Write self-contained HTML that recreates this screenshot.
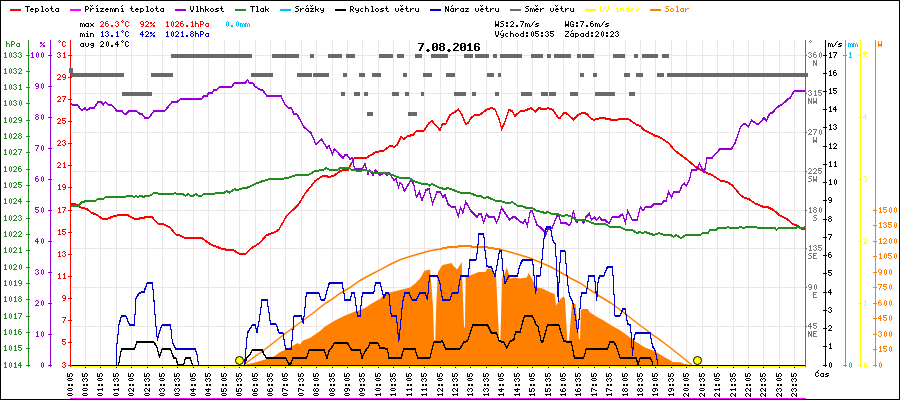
<!DOCTYPE html>
<html><head><meta charset="utf-8"><title>Graf 7.08.2016</title>
<style>
html,body{margin:0;padding:0;background:#fff;font-family:"Liberation Sans",sans-serif;}
body{width:900px;height:400px;overflow:hidden;}
svg{display:block;}
.ce,use,defs path{shape-rendering:crispEdges;}
.ln{fill:none;stroke-linejoin:miter;stroke-linecap:butt;shape-rendering:crispEdges;}
</style></head><body>
<svg width="900" height="400" viewBox="0 0 900 400">
<defs>
<path id="g25" d="M0 2h2v1h-2zM4 2h1v1h-1zM0 3h2v1h-2zM3 3h1v1h-1zM2 4h1v1h-1zM1 5h1v1h-1zM3 5h2v1h-2zM0 6h1v1h-1zM3 6h2v1h-2z"/>
<path id="g2e" d="M1 5h2v1h-2zM1 6h2v1h-2z"/>
<path id="g2f" d="M4 1h1v1h-1zM3 2h1v1h-1zM2 3h1v1h-1zM2 4h1v1h-1zM1 5h1v1h-1zM0 6h1v1h-1z"/>
<path id="g30" d="M2 1h1v1h-1zM1 2h1v1h-1zM3 2h1v1h-1zM1 3h1v1h-1zM3 3h1v1h-1zM1 4h1v1h-1zM3 4h1v1h-1zM1 5h1v1h-1zM3 5h1v1h-1zM2 6h1v1h-1z"/>
<path id="g31" d="M2 1h1v1h-1zM1 2h2v1h-2zM2 3h1v1h-1zM2 4h1v1h-1zM2 5h1v1h-1zM1 6h3v1h-3z"/>
<path id="g32" d="M1 1h2v1h-2zM0 2h1v1h-1zM3 2h1v1h-1zM3 3h1v1h-1zM2 4h1v1h-1zM1 5h1v1h-1zM0 6h4v1h-4z"/>
<path id="g33" d="M1 1h2v1h-2zM0 2h1v1h-1zM3 2h1v1h-1zM2 3h1v1h-1zM3 4h1v1h-1zM0 5h1v1h-1zM3 5h1v1h-1zM1 6h2v1h-2z"/>
<path id="g34" d="M2 1h1v1h-1zM1 2h2v1h-2zM0 3h1v1h-1zM2 3h1v1h-1zM0 4h4v1h-4zM2 5h1v1h-1zM2 6h1v1h-1z"/>
<path id="g35" d="M0 1h4v1h-4zM0 2h1v1h-1zM0 3h3v1h-3zM3 4h1v1h-1zM0 5h1v1h-1zM3 5h1v1h-1zM1 6h2v1h-2z"/>
<path id="g36" d="M1 1h2v1h-2zM0 2h1v1h-1zM0 3h3v1h-3zM0 4h1v1h-1zM3 4h1v1h-1zM0 5h1v1h-1zM3 5h1v1h-1zM1 6h2v1h-2z"/>
<path id="g37" d="M0 1h4v1h-4zM3 2h1v1h-1zM2 3h1v1h-1zM2 4h1v1h-1zM1 5h1v1h-1zM1 6h1v1h-1z"/>
<path id="g38" d="M1 1h2v1h-2zM0 2h1v1h-1zM3 2h1v1h-1zM1 3h2v1h-2zM0 4h1v1h-1zM3 4h1v1h-1zM0 5h1v1h-1zM3 5h1v1h-1zM1 6h2v1h-2z"/>
<path id="g39" d="M1 1h2v1h-2zM0 2h1v1h-1zM3 2h1v1h-1zM0 3h1v1h-1zM3 3h1v1h-1zM1 4h3v1h-3zM3 5h1v1h-1zM1 6h2v1h-2z"/>
<path id="g3a" d="M1 2h2v1h-2zM1 3h2v1h-2zM1 5h2v1h-2zM1 6h2v1h-2z"/>
<path id="g43" d="M1 1h2v1h-2zM0 2h1v1h-1zM3 2h1v1h-1zM0 3h1v1h-1zM0 4h1v1h-1zM0 5h1v1h-1zM3 5h1v1h-1zM1 6h2v1h-2z"/>
<path id="g45" d="M0 1h4v1h-4zM0 2h1v1h-1zM0 3h3v1h-3zM0 4h1v1h-1zM0 5h1v1h-1zM0 6h4v1h-4z"/>
<path id="g47" d="M1 1h2v1h-2zM0 2h1v1h-1zM3 2h1v1h-1zM0 3h1v1h-1zM0 4h1v1h-1zM2 4h2v1h-2zM0 5h1v1h-1zM3 5h1v1h-1zM1 6h3v1h-3z"/>
<path id="g4e" d="M0 1h1v1h-1zM3 1h1v1h-1zM0 2h2v1h-2zM3 2h1v1h-1zM0 3h2v1h-2zM3 3h1v1h-1zM0 4h1v1h-1zM2 4h2v1h-2zM0 5h1v1h-1zM2 5h2v1h-2zM0 6h1v1h-1zM3 6h1v1h-1z"/>
<path id="g50" d="M0 1h3v1h-3zM0 2h1v1h-1zM3 2h1v1h-1zM0 3h1v1h-1zM3 3h1v1h-1zM0 4h3v1h-3zM0 5h1v1h-1zM0 6h1v1h-1z"/>
<path id="g52" d="M0 1h3v1h-3zM0 2h1v1h-1zM3 2h1v1h-1zM0 3h1v1h-1zM3 3h1v1h-1zM0 4h3v1h-3zM0 5h1v1h-1zM2 5h1v1h-1zM0 6h1v1h-1zM3 6h1v1h-1z"/>
<path id="g53" d="M1 1h3v1h-3zM0 2h1v1h-1zM1 3h2v1h-2zM3 4h1v1h-1zM3 5h1v1h-1zM0 6h3v1h-3z"/>
<path id="g54" d="M0 1h5v1h-5zM2 2h1v1h-1zM2 3h1v1h-1zM2 4h1v1h-1zM2 5h1v1h-1zM2 6h1v1h-1z"/>
<path id="g55" d="M0 1h1v1h-1zM3 1h1v1h-1zM0 2h1v1h-1zM3 2h1v1h-1zM0 3h1v1h-1zM3 3h1v1h-1zM0 4h1v1h-1zM3 4h1v1h-1zM0 5h1v1h-1zM3 5h1v1h-1zM1 6h2v1h-2z"/>
<path id="g56" d="M0 1h1v1h-1zM3 1h1v1h-1zM0 2h1v1h-1zM3 2h1v1h-1zM0 3h1v1h-1zM3 3h1v1h-1zM0 4h1v1h-1zM3 4h1v1h-1zM1 5h2v1h-2zM1 6h2v1h-2z"/>
<path id="g57" d="M0 1h1v1h-1zM3 1h1v1h-1zM0 2h1v1h-1zM3 2h1v1h-1zM0 3h1v1h-1zM3 3h1v1h-1zM0 4h4v1h-4zM0 5h4v1h-4zM0 6h1v1h-1zM3 6h1v1h-1z"/>
<path id="g5a" d="M0 1h4v1h-4zM3 2h1v1h-1zM2 3h1v1h-1zM1 4h1v1h-1zM0 5h1v1h-1zM0 6h4v1h-4z"/>
<path id="g61" d="M1 3h3v1h-3zM0 4h1v1h-1zM3 4h1v1h-1zM0 5h1v1h-1zM3 5h1v1h-1zM1 6h3v1h-3z"/>
<path id="g63" d="M1 3h2v1h-2zM0 4h1v1h-1zM0 5h1v1h-1zM1 6h2v1h-2z"/>
<path id="g64" d="M3 1h1v1h-1zM3 2h1v1h-1zM1 3h3v1h-3zM0 4h1v1h-1zM3 4h1v1h-1zM0 5h1v1h-1zM3 5h1v1h-1zM1 6h3v1h-3z"/>
<path id="g65" d="M1 3h2v1h-2zM0 4h4v1h-4zM0 5h1v1h-1zM1 6h2v1h-2z"/>
<path id="g67" d="M1 3h3v1h-3zM0 4h1v1h-1zM3 4h1v1h-1zM1 5h3v1h-3zM3 6h1v1h-1zM1 7h2v1h-2z"/>
<path id="g68" d="M0 1h1v1h-1zM0 2h1v1h-1zM0 3h3v1h-3zM0 4h1v1h-1zM3 4h1v1h-1zM0 5h1v1h-1zM3 5h1v1h-1zM0 6h1v1h-1zM3 6h1v1h-1z"/>
<path id="g69" d="M2 1h1v1h-1zM1 3h2v1h-2zM2 4h1v1h-1zM2 5h1v1h-1zM1 6h3v1h-3z"/>
<path id="g6b" d="M0 1h1v1h-1zM0 2h1v1h-1zM0 3h1v1h-1zM3 3h1v1h-1zM0 4h3v1h-3zM0 5h1v1h-1zM2 5h1v1h-1zM0 6h1v1h-1zM3 6h1v1h-1z"/>
<path id="g6c" d="M1 1h2v1h-2zM2 2h1v1h-1zM2 3h1v1h-1zM2 4h1v1h-1zM2 5h1v1h-1zM1 6h3v1h-3z"/>
<path id="g6d" d="M0 3h2v1h-2zM3 3h1v1h-1zM0 4h1v1h-1zM2 4h1v1h-1zM4 4h1v1h-1zM0 5h1v1h-1zM2 5h1v1h-1zM4 5h1v1h-1zM0 6h1v1h-1zM2 6h1v1h-1zM4 6h1v1h-1z"/>
<path id="g6e" d="M0 3h3v1h-3zM0 4h1v1h-1zM3 4h1v1h-1zM0 5h1v1h-1zM3 5h1v1h-1zM0 6h1v1h-1zM3 6h1v1h-1z"/>
<path id="g6f" d="M1 3h2v1h-2zM0 4h1v1h-1zM3 4h1v1h-1zM0 5h1v1h-1zM3 5h1v1h-1zM1 6h2v1h-2z"/>
<path id="g70" d="M0 3h3v1h-3zM0 4h1v1h-1zM3 4h1v1h-1zM0 5h1v1h-1zM3 5h1v1h-1zM0 6h3v1h-3zM0 7h1v1h-1z"/>
<path id="g72" d="M0 3h1v1h-1zM2 3h2v1h-2zM0 4h2v1h-2zM0 5h1v1h-1zM0 6h1v1h-1z"/>
<path id="g73" d="M1 3h3v1h-3zM0 4h2v1h-2zM2 5h2v1h-2zM0 6h3v1h-3z"/>
<path id="g74" d="M1 1h1v1h-1zM1 2h1v1h-1zM0 3h3v1h-3zM1 4h1v1h-1zM1 5h1v1h-1zM2 6h2v1h-2z"/>
<path id="g75" d="M0 3h1v1h-1zM3 3h1v1h-1zM0 4h1v1h-1zM3 4h1v1h-1zM0 5h1v1h-1zM3 5h1v1h-1zM1 6h3v1h-3z"/>
<path id="g76" d="M0 3h1v1h-1zM3 3h1v1h-1zM0 4h1v1h-1zM3 4h1v1h-1zM0 5h1v1h-1zM3 5h1v1h-1zM1 6h2v1h-2z"/>
<path id="g78" d="M0 3h1v1h-1zM3 3h1v1h-1zM1 4h2v1h-2zM1 5h2v1h-2zM0 6h1v1h-1zM3 6h1v1h-1z"/>
<path id="g79" d="M0 3h1v1h-1zM3 3h1v1h-1zM0 4h1v1h-1zM3 4h1v1h-1zM1 5h3v1h-3zM3 6h1v1h-1zM1 7h2v1h-2z"/>
<path id="g7a" d="M0 3h4v1h-4zM2 4h1v1h-1zM1 5h1v1h-1zM0 6h4v1h-4z"/>
<path id="gb0" d="M2 0h1v1h-1zM1 1h1v1h-1zM3 1h1v1h-1zM2 2h1v1h-1z"/>
<path id="ge1" d="M2 0h1v1h-1zM1 1h1v1h-1zM1 3h3v1h-3zM0 4h1v1h-1zM3 4h1v1h-1zM0 5h1v1h-1zM3 5h1v1h-1zM1 6h3v1h-3z"/>
<path id="ged" d="M2 0h1v1h-1zM1 1h1v1h-1zM1 3h2v1h-2zM2 4h1v1h-1zM2 5h1v1h-1zM1 6h3v1h-3z"/>
<path id="gfd" d="M2 0h1v1h-1zM1 1h1v1h-1zM0 3h1v1h-1zM3 3h1v1h-1zM0 4h1v1h-1zM3 4h1v1h-1zM1 5h3v1h-3zM3 6h1v1h-1zM1 7h2v1h-2z"/>
<path id="g10d" d="M3 0h1v1h-1zM2 1h1v1h-1zM1 2h2v1h-2zM0 3h1v1h-1zM3 3h1v1h-1zM0 4h1v1h-1zM0 5h1v1h-1zM3 5h1v1h-1zM1 6h2v1h-2z"/>
<path id="g11b" d="M0 0h1v1h-1zM2 0h1v1h-1zM1 1h1v1h-1zM1 3h2v1h-2zM0 4h4v1h-4zM0 5h1v1h-1zM1 6h2v1h-2z"/>
<path id="g159" d="M0 0h1v1h-1zM2 0h1v1h-1zM1 1h1v1h-1zM0 3h1v1h-1zM2 3h2v1h-2zM0 4h2v1h-2zM0 5h1v1h-1zM0 6h1v1h-1z"/>
<path id="g17e" d="M0 0h1v1h-1zM2 0h1v1h-1zM1 1h1v1h-1zM0 3h4v1h-4zM2 4h1v1h-1zM1 5h1v1h-1zM0 6h4v1h-4z"/>
<path id="b2e" d="M2 6h2v1h-2zM1 7h4v1h-4zM2 8h2v1h-2z"/>
<path id="b30" d="M1 0h4v1h-4zM0 1h2v1h-2zM4 1h2v1h-2zM0 2h2v1h-2zM4 2h2v1h-2zM0 3h2v1h-2zM3 3h3v1h-3zM0 4h3v1h-3zM4 4h2v1h-2zM0 5h2v1h-2zM4 5h2v1h-2zM0 6h2v1h-2zM4 6h2v1h-2zM1 7h4v1h-4z"/>
<path id="b31" d="M2 0h2v1h-2zM1 1h3v1h-3zM0 2h4v1h-4zM2 3h2v1h-2zM2 4h2v1h-2zM2 5h2v1h-2zM2 6h2v1h-2zM0 7h6v1h-6z"/>
<path id="b32" d="M1 0h4v1h-4zM0 1h2v1h-2zM4 1h2v1h-2zM4 2h2v1h-2zM3 3h2v1h-2zM2 4h2v1h-2zM1 5h2v1h-2zM0 6h2v1h-2zM0 7h6v1h-6z"/>
<path id="b36" d="M1 0h4v1h-4zM0 1h2v1h-2zM4 1h2v1h-2zM0 2h2v1h-2zM0 3h5v1h-5zM0 4h2v1h-2zM4 4h2v1h-2zM0 5h2v1h-2zM4 5h2v1h-2zM0 6h2v1h-2zM4 6h2v1h-2zM1 7h4v1h-4z"/>
<path id="b37" d="M0 0h6v1h-6zM4 1h2v1h-2zM3 2h2v1h-2zM3 3h2v1h-2zM2 4h2v1h-2zM2 5h2v1h-2zM1 6h2v1h-2zM1 7h2v1h-2z"/>
<path id="b38" d="M1 0h4v1h-4zM0 1h2v1h-2zM4 1h2v1h-2zM0 2h2v1h-2zM4 2h2v1h-2zM1 3h4v1h-4zM0 4h2v1h-2zM4 4h2v1h-2zM0 5h2v1h-2zM4 5h2v1h-2zM0 6h2v1h-2zM4 6h2v1h-2zM1 7h4v1h-4z"/>
</defs>
<rect x="0" y="0" width="900" height="400" fill="#ffffff"/>
<g class="ce" stroke="#ece6e6" stroke-width="1">
<line x1="85.5" y1="40" x2="85.5" y2="365"/>
<line x1="100.5" y1="40" x2="100.5" y2="365"/>
<line x1="116.5" y1="40" x2="116.5" y2="365"/>
<line x1="131.5" y1="40" x2="131.5" y2="365"/>
<line x1="147.5" y1="40" x2="147.5" y2="365"/>
<line x1="162.5" y1="40" x2="162.5" y2="365"/>
<line x1="177.5" y1="40" x2="177.5" y2="365"/>
<line x1="193.5" y1="40" x2="193.5" y2="365"/>
<line x1="208.5" y1="40" x2="208.5" y2="365"/>
<line x1="224.5" y1="40" x2="224.5" y2="365"/>
<line x1="239.5" y1="40" x2="239.5" y2="365"/>
<line x1="255.5" y1="40" x2="255.5" y2="365"/>
<line x1="270.5" y1="40" x2="270.5" y2="365"/>
<line x1="285.5" y1="40" x2="285.5" y2="365"/>
<line x1="301.5" y1="40" x2="301.5" y2="365"/>
<line x1="316.5" y1="40" x2="316.5" y2="365"/>
<line x1="332.5" y1="40" x2="332.5" y2="365"/>
<line x1="347.5" y1="40" x2="347.5" y2="365"/>
<line x1="362.5" y1="40" x2="362.5" y2="365"/>
<line x1="378.5" y1="40" x2="378.5" y2="365"/>
<line x1="393.5" y1="40" x2="393.5" y2="365"/>
<line x1="409.5" y1="40" x2="409.5" y2="365"/>
<line x1="424.5" y1="40" x2="424.5" y2="365"/>
<line x1="440.5" y1="40" x2="440.5" y2="365"/>
<line x1="455.5" y1="40" x2="455.5" y2="365"/>
<line x1="470.5" y1="40" x2="470.5" y2="365"/>
<line x1="486.5" y1="40" x2="486.5" y2="365"/>
<line x1="501.5" y1="40" x2="501.5" y2="365"/>
<line x1="517.5" y1="40" x2="517.5" y2="365"/>
<line x1="532.5" y1="40" x2="532.5" y2="365"/>
<line x1="548.5" y1="40" x2="548.5" y2="365"/>
<line x1="563.5" y1="40" x2="563.5" y2="365"/>
<line x1="578.5" y1="40" x2="578.5" y2="365"/>
<line x1="594.5" y1="40" x2="594.5" y2="365"/>
<line x1="609.5" y1="40" x2="609.5" y2="365"/>
<line x1="625.5" y1="40" x2="625.5" y2="365"/>
<line x1="640.5" y1="40" x2="640.5" y2="365"/>
<line x1="655.5" y1="40" x2="655.5" y2="365"/>
<line x1="671.5" y1="40" x2="671.5" y2="365"/>
<line x1="686.5" y1="40" x2="686.5" y2="365"/>
<line x1="702.5" y1="40" x2="702.5" y2="365"/>
<line x1="717.5" y1="40" x2="717.5" y2="365"/>
<line x1="733.5" y1="40" x2="733.5" y2="365"/>
<line x1="748.5" y1="40" x2="748.5" y2="365"/>
<line x1="763.5" y1="40" x2="763.5" y2="365"/>
<line x1="779.5" y1="40" x2="779.5" y2="365"/>
<line x1="794.5" y1="40" x2="794.5" y2="365"/>
<line x1="70" y1="55.5" x2="805" y2="55.5"/>
<line x1="70" y1="93.5" x2="805" y2="93.5"/>
<line x1="70" y1="132.5" x2="805" y2="132.5"/>
<line x1="70" y1="171.5" x2="805" y2="171.5"/>
<line x1="70" y1="210.5" x2="805" y2="210.5"/>
<line x1="70" y1="248.5" x2="805" y2="248.5"/>
<line x1="70" y1="287.5" x2="805" y2="287.5"/>
<line x1="70" y1="326.5" x2="805" y2="326.5"/>
</g>
<polygon points="246.0,364.5 255.0,362.5 265.0,359.5 274.0,356.5 280.0,352.0 285.0,350.0 290.0,347.5 297.5,343.0 300.0,344.5 303.0,340.5 310.0,338.0 320.0,331.0 325.0,326.5 335.0,320.5 345.0,315.5 355.0,311.5 360.0,310.0 365.0,308.0 370.0,304.5 380.0,298.8 385.0,293.8 395.0,291.3 405.0,288.8 410.0,287.5 415.0,283.8 420.0,278.6 424.5,270.8 430.0,269.6 430.8,277.5 433.0,306.8 434.0,340.0 435.3,340.0 436.2,306.8 437.6,277.5 438.0,271.9 442.5,265.0 451.5,262.9 453.8,266.3 457.2,269.6 460.5,264.0 461.7,261.8 462.1,276.4 464.1,327.5 464.9,327.5 465.7,276.4 470.7,275.3 478.6,271.9 485.3,271.9 487.6,268.5 492.0,269.6 495.5,275.3 496.1,276.4 499.2,341.7 500.3,341.7 502.2,277.5 504.5,274.1 506.7,267.4 508.3,271.9 510.1,278.6 514.6,277.5 520.0,278.5 526.8,277.4 528.6,272.9 531.3,277.4 534.6,284.1 536.9,287.5 542.5,288.6 549.3,292.0 554.9,294.3 556.0,305.5 558.3,302.2 560.5,298.8 563.9,296.5 565.0,298.8 567.3,340.5 569.0,340.5 572.0,303.3 575.5,304.0 579.0,339.3 580.0,339.3 580.8,310.0 583.0,308.9 587.6,308.9 589.8,312.3 596.6,316.8 603.3,320.2 610.1,324.7 620.0,330.3 625.0,333.8 635.0,341.3 645.0,347.5 655.0,351.3 665.0,357.5 670.0,360.0 672.5,362.0 681.0,362.3 683.0,363.5 690.0,365.0 690,365.5 245,365.5" fill="#ff7f00"/>
<polyline points="245.0,364.5 246.0,363.0 250.0,360.0 260.0,353.0 270.0,345.5 280.0,337.5 290.0,330.0 297.5,324.5 305.0,319.0 312.5,313.5 320.0,307.5 327.5,302.0 330.0,300.5 340.0,293.5 350.0,287.5 360.0,280.5 370.0,275.0 380.0,269.8 390.0,264.5 400.0,259.7 410.0,256.5 420.0,253.5 430.0,250.7 440.0,248.9 449.0,247.0 464.0,246.2 468.0,245.9 472.0,246.6 487.0,247.2 490.0,248.0 500.0,249.3 510.0,252.0 520.0,255.0 530.0,258.0 540.0,262.3 550.0,266.5 560.0,272.0 570.0,278.0 580.0,283.0 590.0,290.0 600.0,296.5 610.0,302.5 617.0,307.5 625.0,313.5 635.0,321.5 645.0,329.0 655.0,336.5 660.0,339.8 670.0,347.5 692.0,365.0" fill="none" stroke="#ff7f00" stroke-width="1.5"/>
<g class="ln" stroke="#ff7f00" stroke-width="1"><polyline points="440.0,248.4 449.0,246.5 464.0,245.7 468.0,245.4 472.0,246.1 487.0,246.7 490.0,247.5 500.0,248.8"/><polyline points="440.0,249.4 449.0,247.5 464.0,246.7 468.0,246.4 472.0,247.1 487.0,247.7 490.0,248.5 500.0,249.8"/></g>
<g class="ce" fill="#696969">
<rect x="171.0" y="54" width="81.0" height="4"/>
<rect x="272.0" y="54" width="27.0" height="4"/>
<rect x="310.0" y="54" width="4.0" height="4"/>
<rect x="328.0" y="54" width="14.0" height="4"/>
<rect x="346.0" y="54" width="9.0" height="4"/>
<rect x="379.0" y="54" width="14.0" height="4"/>
<rect x="397.0" y="54" width="7.0" height="4"/>
<rect x="415.0" y="54" width="6.6" height="4"/>
<rect x="431.0" y="54" width="16.8" height="4"/>
<rect x="464.0" y="54" width="9.0" height="4"/>
<rect x="475.0" y="54" width="14.0" height="4"/>
<rect x="493.3" y="54" width="3.4" height="4"/>
<rect x="500.0" y="54" width="21.8" height="4"/>
<rect x="531.0" y="54" width="12.0" height="4"/>
<rect x="547.0" y="54" width="3.7" height="4"/>
<rect x="554.0" y="54" width="16.7" height="4"/>
<rect x="577.0" y="54" width="3.7" height="4"/>
<rect x="582.0" y="54" width="12.0" height="4"/>
<rect x="612.8" y="54" width="12.2" height="4"/>
<rect x="633.8" y="54" width="4.0" height="4"/>
<rect x="642.0" y="54" width="15.9" height="4"/>
<rect x="661.8" y="54" width="7.2" height="4"/>
<rect x="71.0" y="73" width="53.0" height="4"/>
<rect x="151.0" y="73" width="22.0" height="4"/>
<rect x="251.0" y="73" width="22.0" height="4"/>
<rect x="297.0" y="73" width="15.0" height="4"/>
<rect x="313.0" y="73" width="16.0" height="4"/>
<rect x="343.0" y="73" width="4.0" height="4"/>
<rect x="359.0" y="73" width="6.0" height="4"/>
<rect x="372.0" y="73" width="9.0" height="4"/>
<rect x="403.0" y="73" width="4.0" height="4"/>
<rect x="423.3" y="73" width="8.5" height="4"/>
<rect x="446.0" y="73" width="9.0" height="4"/>
<rect x="487.0" y="73" width="6.8" height="4"/>
<rect x="498.0" y="73" width="3.0" height="4"/>
<rect x="580.0" y="73" width="3.8" height="4"/>
<rect x="593.0" y="73" width="4.0" height="4"/>
<rect x="624.0" y="73" width="5.9" height="4"/>
<rect x="636.0" y="73" width="7.0" height="4"/>
<rect x="657.0" y="73" width="7.0" height="4"/>
<rect x="667.0" y="73" width="141.0" height="4"/>
<rect x="122.0" y="92" width="30.0" height="4"/>
<rect x="341.0" y="92" width="4.0" height="4"/>
<rect x="354.0" y="92" width="6.0" height="4"/>
<rect x="364.0" y="92" width="4.0" height="4"/>
<rect x="392.0" y="92" width="7.0" height="4"/>
<rect x="405.0" y="92" width="4.0" height="4"/>
<rect x="421.0" y="92" width="3.0" height="4"/>
<rect x="454.0" y="92" width="11.6" height="4"/>
<rect x="472.0" y="92" width="4.0" height="4"/>
<rect x="495.0" y="92" width="4.0" height="4"/>
<rect x="521.0" y="92" width="10.8" height="4"/>
<rect x="541.0" y="92" width="6.8" height="4"/>
<rect x="549.0" y="92" width="7.0" height="4"/>
<rect x="570.0" y="92" width="7.8" height="4"/>
<rect x="595.0" y="92" width="20.0" height="4"/>
<rect x="629.0" y="92" width="6.0" height="4"/>
<rect x="367.0" y="112" width="6.0" height="4"/>
<rect x="408.0" y="112" width="9.0" height="4"/>
</g>
<g class="ln" stroke="#ff0000" stroke-width="1"><polyline points="70.0,203.5 75.0,203.5 81.0,207.1 87.0,208.5 91.0,211.9 97.0,214.5 102.0,218.1 108.0,218.1 114.0,215.5 122.0,214.1 127.0,214.1 134.0,218.1 139.0,218.1 147.0,216.5 152.0,216.5 158.0,223.1 163.0,223.5 170.0,227.1 176.0,234.1 180.0,234.9 185.0,237.5 202.0,237.5 208.0,242.1 212.0,244.5 215.8,246.0 223.6,248.9 232.6,249.4 239.4,253.2 246.0,253.2 250.6,248.3 259.6,242.5 266.4,234.8 275.4,231.4 278.8,229.1 286.6,215.5 292.3,210.0 299.0,203.3 305.8,192.0 312.5,184.1 315.0,180.5 321.0,176.5 325.0,175.1 329.0,176.5 334.0,175.1 340.0,170.5 344.0,169.5 348.0,169.5 351.0,163.5 354.4,157.5 366.0,157.5 376.0,151.5 384.0,150.1 390.0,145.1 394.0,146.5 397.0,144.5 401.0,136.5 404.0,138.5 408.0,135.5 413.0,134.5 417.0,130.1 424.0,130.1 429.0,122.5 432.0,120.5 440.0,129.5 442.4,123.5 445.6,123.5 450.0,114.5 454.0,111.9 458.4,109.1 461.6,113.5 465.6,123.5 468.0,122.5 471.0,117.5 475.0,114.5 480.0,114.1 487.0,108.9 492.0,107.5 495.0,108.9 499.0,118.5 501.6,128.5 504.0,123.5 509.0,109.5 512.0,110.5 515.0,115.5 520.0,111.1 525.0,110.1 531.0,107.5 535.6,111.1 539.0,107.5 542.0,108.5 546.0,108.5 548.0,107.5 553.0,109.5 558.0,117.1 560.4,117.1 563.6,112.5 567.0,113.1 573.6,119.1 578.0,114.5 583.0,112.1 587.0,113.5 591.0,118.1 594.0,119.5 598.0,118.1 603.0,117.5 611.0,119.1 616.7,119.5 620.0,118.3 628.0,118.3 636.0,123.9 640.4,125.5 643.7,129.5 655.0,135.2 659.5,136.5 668.5,142.5 675.0,150.2 686.5,158.8 696.6,167.1 704.5,171.5 712.0,174.5 721.0,180.5 727.0,181.3 732.3,184.8 740.5,194.5 744.3,197.2 749.5,199.0 754.8,202.8 763.0,206.2 767.5,206.5 773.5,209.5 779.5,214.8 787.0,218.5 793.0,223.8 797.5,225.3 802.0,228.3 805.0,228.3"/><polyline points="70.0,204.5 75.0,204.5 81.0,208.1 87.0,209.5 91.0,212.9 97.0,215.5 102.0,219.1 108.0,219.1 114.0,216.5 122.0,215.1 127.0,215.1 134.0,219.1 139.0,219.1 147.0,217.5 152.0,217.5 158.0,224.1 163.0,224.5 170.0,228.1 176.0,235.1 180.0,235.9 185.0,238.5 202.0,238.5 208.0,243.1 212.0,245.5 215.8,247.0 223.6,249.9 232.6,250.4 239.4,254.2 246.0,254.2 250.6,249.3 259.6,243.5 266.4,235.8 275.4,232.4 278.8,230.1 286.6,216.5 292.3,211.0 299.0,204.3 305.8,193.0 312.5,185.1 315.0,181.5 321.0,177.5 325.0,176.1 329.0,177.5 334.0,176.1 340.0,171.5 344.0,170.5 348.0,170.5 351.0,164.5 354.4,158.5 366.0,158.5 376.0,152.5 384.0,151.1 390.0,146.1 394.0,147.5 397.0,145.5 401.0,137.5 404.0,139.5 408.0,136.5 413.0,135.5 417.0,131.1 424.0,131.1 429.0,123.5 432.0,121.5 440.0,130.5 442.4,124.5 445.6,124.5 450.0,115.5 454.0,112.9 458.4,110.1 461.6,114.5 465.6,124.5 468.0,123.5 471.0,118.5 475.0,115.5 480.0,115.1 487.0,109.9 492.0,108.5 495.0,109.9 499.0,119.5 501.6,129.5 504.0,124.5 509.0,110.5 512.0,111.5 515.0,116.5 520.0,112.1 525.0,111.1 531.0,108.5 535.6,112.1 539.0,108.5 542.0,109.5 546.0,109.5 548.0,108.5 553.0,110.5 558.0,118.1 560.4,118.1 563.6,113.5 567.0,114.1 573.6,120.1 578.0,115.5 583.0,113.1 587.0,114.5 591.0,119.1 594.0,120.5 598.0,119.1 603.0,118.5 611.0,120.1 616.7,120.5 620.0,119.3 628.0,119.3 636.0,124.9 640.4,126.5 643.7,130.5 655.0,136.2 659.5,137.5 668.5,143.5 675.0,151.2 686.5,159.8 696.6,168.1 704.5,172.5 712.0,175.5 721.0,181.5 727.0,182.3 732.3,185.8 740.5,195.5 744.3,198.2 749.5,200.0 754.8,203.8 763.0,207.2 767.5,207.5 773.5,210.5 779.5,215.8 787.0,219.5 793.0,224.8 797.5,226.3 802.0,229.3 805.0,229.3"/></g>
<g class="ln" stroke="#9400d3" stroke-width="1"><polyline points="70.0,101.5 72.0,104.1 77.0,104.1 82.0,110.1 85.0,107.5 87.0,110.1 90.0,107.5 94.0,107.5 98.0,101.5 101.0,101.5 103.4,104.1 105.4,101.5 108.0,104.1 111.4,104.1 116.6,110.1 121.6,110.1 124.0,113.1 126.6,113.1 129.4,110.1 136.0,110.1 140.0,113.5 142.0,113.5 144.6,117.1 149.0,117.1 154.4,110.1 165.0,110.1 172.0,101.5 177.0,101.5 180.6,98.5 201.6,98.5 203.6,95.5 207.0,95.5 208.6,92.5 212.0,92.5 214.0,89.1 217.0,89.1 219.4,86.5 231.4,86.5 234.4,82.5 245.0,82.5 247.6,79.5 249.0,82.1 252.4,82.5 255.0,85.9 260.0,89.1 262.4,89.5 267.0,95.5 281.0,95.5 285.0,103.9 288.0,107.1 291.6,107.5 293.6,113.1 296.6,113.5 298.0,115.5 304.0,126.5 311.0,132.5 316.0,143.9 321.4,138.5 327.0,147.5 329.0,145.1 332.4,153.5 334.4,148.5 343.0,157.5 345.0,154.5 347.0,154.5 350.0,158.5 352.0,157.1 354.4,167.5 357.0,168.9 362.0,168.9 365.0,163.1 368.0,173.5 369.4,169.5 373.0,174.5 375.6,169.5 380.0,174.5 384.0,172.5 387.0,174.5 389.0,172.5 394.0,179.5 396.0,178.5 398.6,186.5 400.0,182.5 402.0,183.9 404.4,190.5 411.0,179.5 413.6,183.5 416.4,196.5 419.4,191.5 422.0,199.9 426.0,189.5 429.0,188.5 432.6,203.1 437.0,191.5 440.0,191.1 443.0,196.5 445.0,194.5 448.0,203.5 451.0,206.1 455.0,206.1 458.4,215.5 460.6,207.1 463.0,212.5 465.6,201.1 471.0,210.5 477.0,216.5 479.0,213.1 481.0,213.1 483.6,221.9 486.4,213.5 489.0,216.5 494.0,216.5 496.6,221.9 499.0,216.5 501.4,207.1 505.0,212.5 509.6,219.5 513.0,216.5 515.0,216.5 520.0,221.1 523.0,222.5 525.0,219.5 527.4,225.1 530.4,210.5 532.4,210.9 537.0,224.5 540.0,226.5 544.0,230.5 545.6,234.5 548.0,228.5 552.0,227.5 557.0,215.5 559.0,215.5 561.0,222.5 566.0,222.5 569.0,225.1 571.0,222.5 573.4,210.5 576.0,221.1 577.6,221.9 578.0,219.5 582.0,219.5 583.6,222.5 586.0,216.5 589.4,213.1 591.4,219.5 594.4,216.5 596.4,219.5 599.6,216.5 601.6,219.5 605.0,219.5 609.0,223.1 612.4,216.5 619.0,216.5 622.4,213.5 625.4,221.9 627.6,210.5 632.4,219.5 637.0,219.5 640.4,206.5 643.0,210.1 645.6,206.5 651.0,206.5 654.0,203.5 661.6,203.5 663.6,200.5 666.0,200.5 668.6,191.5 671.4,197.1 673.6,191.5 679.6,191.1 682.0,185.1 684.4,183.1 686.4,185.5 689.6,179.1 691.4,170.5 691.6,169.5 696.6,169.5 699.5,163.3 702.0,168.2 704.5,171.5 707.0,157.0 712.4,157.0 720.0,148.5 731.5,148.5 735.0,142.5 740.5,126.5 744.0,123.2 746.0,123.9 748.4,126.2 751.7,119.9 757.4,123.7 759.6,122.5 764.0,117.5 766.4,119.9 769.7,113.1 772.0,112.5 777.6,106.5 782.0,104.1 787.7,98.9 790.0,97.5 794.5,90.2 805.0,90.2"/><polyline points="70.0,102.5 72.0,105.1 77.0,105.1 82.0,111.1 85.0,108.5 87.0,111.1 90.0,108.5 94.0,108.5 98.0,102.5 101.0,102.5 103.4,105.1 105.4,102.5 108.0,105.1 111.4,105.1 116.6,111.1 121.6,111.1 124.0,114.1 126.6,114.1 129.4,111.1 136.0,111.1 140.0,114.5 142.0,114.5 144.6,118.1 149.0,118.1 154.4,111.1 165.0,111.1 172.0,102.5 177.0,102.5 180.6,99.5 201.6,99.5 203.6,96.5 207.0,96.5 208.6,93.5 212.0,93.5 214.0,90.1 217.0,90.1 219.4,87.5 231.4,87.5 234.4,83.5 245.0,83.5 247.6,80.5 249.0,83.1 252.4,83.5 255.0,86.9 260.0,90.1 262.4,90.5 267.0,96.5 281.0,96.5 285.0,104.9 288.0,108.1 291.6,108.5 293.6,114.1 296.6,114.5 298.0,116.5 304.0,127.5 311.0,133.5 316.0,144.9 321.4,139.5 327.0,148.5 329.0,146.1 332.4,154.5 334.4,149.5 343.0,158.5 345.0,155.5 347.0,155.5 350.0,159.5 352.0,158.1 354.4,168.5 357.0,169.9 362.0,169.9 365.0,164.1 368.0,174.5 369.4,170.5 373.0,175.5 375.6,170.5 380.0,175.5 384.0,173.5 387.0,175.5 389.0,173.5 394.0,180.5 396.0,179.5 398.6,187.5 400.0,183.5 402.0,184.9 404.4,191.5 411.0,180.5 413.6,184.5 416.4,197.5 419.4,192.5 422.0,200.9 426.0,190.5 429.0,189.5 432.6,204.1 437.0,192.5 440.0,192.1 443.0,197.5 445.0,195.5 448.0,204.5 451.0,207.1 455.0,207.1 458.4,216.5 460.6,208.1 463.0,213.5 465.6,202.1 471.0,211.5 477.0,217.5 479.0,214.1 481.0,214.1 483.6,222.9 486.4,214.5 489.0,217.5 494.0,217.5 496.6,222.9 499.0,217.5 501.4,208.1 505.0,213.5 509.6,220.5 513.0,217.5 515.0,217.5 520.0,222.1 523.0,223.5 525.0,220.5 527.4,226.1 530.4,211.5 532.4,211.9 537.0,225.5 540.0,227.5 544.0,231.5 545.6,235.5 548.0,229.5 552.0,228.5 557.0,216.5 559.0,216.5 561.0,223.5 566.0,223.5 569.0,226.1 571.0,223.5 573.4,211.5 576.0,222.1 577.6,222.9 578.0,220.5 582.0,220.5 583.6,223.5 586.0,217.5 589.4,214.1 591.4,220.5 594.4,217.5 596.4,220.5 599.6,217.5 601.6,220.5 605.0,220.5 609.0,224.1 612.4,217.5 619.0,217.5 622.4,214.5 625.4,222.9 627.6,211.5 632.4,220.5 637.0,220.5 640.4,207.5 643.0,211.1 645.6,207.5 651.0,207.5 654.0,204.5 661.6,204.5 663.6,201.5 666.0,201.5 668.6,192.5 671.4,198.1 673.6,192.5 679.6,192.1 682.0,186.1 684.4,184.1 686.4,186.5 689.6,180.1 691.4,171.5 691.6,170.5 696.6,170.5 699.5,164.3 702.0,169.2 704.5,172.5 707.0,158.0 712.4,158.0 720.0,149.5 731.5,149.5 735.0,143.5 740.5,127.5 744.0,124.2 746.0,124.9 748.4,127.2 751.7,120.9 757.4,124.7 759.6,123.5 764.0,118.5 766.4,120.9 769.7,114.1 772.0,113.5 777.6,107.5 782.0,105.1 787.7,99.9 790.0,98.5 794.5,91.2 805.0,91.2"/></g>
<g class="ln" stroke="#228b22" stroke-width="1"><polyline points="70.0,205.5 78.0,205.5 82.0,201.5 87.0,200.5 95.0,200.5 98.0,198.5 103.0,198.5 106.0,196.5 125.0,196.5 127.0,195.5 132.0,195.5 134.0,196.5 136.0,195.1 138.0,196.5 140.6,195.1 143.4,196.5 146.6,195.1 149.4,195.5 154.0,192.5 157.0,192.5 159.0,193.5 173.0,193.5 175.0,192.1 177.0,193.5 183.0,193.5 185.6,195.5 188.0,193.5 191.0,195.5 193.0,195.5 195.6,193.5 199.0,195.5 201.0,195.5 204.0,193.5 214.0,193.5 216.0,192.5 224.0,192.5 226.6,190.5 229.4,192.1 234.6,188.5 237.0,190.1 241.0,188.1 247.3,187.1 255.0,183.5 262.0,180.8 269.8,178.5 280.0,178.5 288.0,177.5 296.0,174.5 309.0,174.1 315.0,170.5 323.0,169.5 326.4,167.5 329.0,169.1 338.0,169.1 340.0,167.5 349.0,167.5 352.0,169.5 359.0,170.5 366.0,169.5 374.0,172.5 386.0,172.5 394.0,175.1 400.0,177.5 409.0,177.5 414.0,180.5 422.0,183.5 427.0,183.5 429.6,185.1 432.0,183.5 440.0,187.5 445.0,188.5 448.0,187.5 460.0,192.1 470.0,192.5 477.0,195.5 481.0,195.5 484.0,198.1 487.4,196.5 495.0,200.1 500.0,200.5 504.0,201.5 508.0,203.1 512.0,201.5 518.0,205.5 523.0,205.9 528.0,208.1 531.0,206.9 537.0,210.5 540.0,210.9 545.0,212.5 548.0,211.5 552.0,213.5 558.0,213.5 563.0,215.9 566.0,214.5 570.0,215.5 573.0,217.5 577.0,219.5 585.0,219.5 594.0,223.1 605.0,223.1 610.0,226.5 620.0,226.5 626.0,229.5 632.0,229.5 637.0,232.5 640.0,231.5 642.4,232.5 645.0,231.5 654.0,234.5 659.0,232.5 664.0,234.5 671.0,234.5 673.6,236.5 676.0,234.5 681.0,237.5 686.0,234.5 700.0,234.5 703.0,232.5 708.0,232.5 710.0,229.5 716.0,229.5 718.0,227.5 726.0,227.5 728.0,226.5 730.0,227.5 738.0,227.5 740.4,226.5 743.0,227.5 748.0,226.3 756.3,226.3 757.8,227.5 775.0,227.5 776.5,229.3 778.8,227.5 796.0,227.5 797.5,226.3 799.8,227.5 803.5,227.5 805.0,226.3"/><polyline points="70.0,206.5 78.0,206.5 82.0,202.5 87.0,201.5 95.0,201.5 98.0,199.5 103.0,199.5 106.0,197.5 125.0,197.5 127.0,196.5 132.0,196.5 134.0,197.5 136.0,196.1 138.0,197.5 140.6,196.1 143.4,197.5 146.6,196.1 149.4,196.5 154.0,193.5 157.0,193.5 159.0,194.5 173.0,194.5 175.0,193.1 177.0,194.5 183.0,194.5 185.6,196.5 188.0,194.5 191.0,196.5 193.0,196.5 195.6,194.5 199.0,196.5 201.0,196.5 204.0,194.5 214.0,194.5 216.0,193.5 224.0,193.5 226.6,191.5 229.4,193.1 234.6,189.5 237.0,191.1 241.0,189.1 247.3,188.1 255.0,184.5 262.0,181.8 269.8,179.5 280.0,179.5 288.0,178.5 296.0,175.5 309.0,175.1 315.0,171.5 323.0,170.5 326.4,168.5 329.0,170.1 338.0,170.1 340.0,168.5 349.0,168.5 352.0,170.5 359.0,171.5 366.0,170.5 374.0,173.5 386.0,173.5 394.0,176.1 400.0,178.5 409.0,178.5 414.0,181.5 422.0,184.5 427.0,184.5 429.6,186.1 432.0,184.5 440.0,188.5 445.0,189.5 448.0,188.5 460.0,193.1 470.0,193.5 477.0,196.5 481.0,196.5 484.0,199.1 487.4,197.5 495.0,201.1 500.0,201.5 504.0,202.5 508.0,204.1 512.0,202.5 518.0,206.5 523.0,206.9 528.0,209.1 531.0,207.9 537.0,211.5 540.0,211.9 545.0,213.5 548.0,212.5 552.0,214.5 558.0,214.5 563.0,216.9 566.0,215.5 570.0,216.5 573.0,218.5 577.0,220.5 585.0,220.5 594.0,224.1 605.0,224.1 610.0,227.5 620.0,227.5 626.0,230.5 632.0,230.5 637.0,233.5 640.0,232.5 642.4,233.5 645.0,232.5 654.0,235.5 659.0,233.5 664.0,235.5 671.0,235.5 673.6,237.5 676.0,235.5 681.0,238.5 686.0,235.5 700.0,235.5 703.0,233.5 708.0,233.5 710.0,230.5 716.0,230.5 718.0,228.5 726.0,228.5 728.0,227.5 730.0,228.5 738.0,228.5 740.4,227.5 743.0,228.5 748.0,227.3 756.3,227.3 757.8,228.5 775.0,228.5 776.5,230.3 778.8,228.5 796.0,228.5 797.5,227.3 799.8,228.5 803.5,228.5 805.0,227.3"/></g>
<g class="ln" stroke="#0000cd" stroke-width="1"><polyline points="116.1,364.5 117.0,343.3 119.0,324.3 121.4,315.3 125.6,315.3 129.7,324.3 134.4,324.3 136.0,298.2 139.2,292.3 144.0,291.5 147.0,282.8 152.2,282.8 153.4,292.3 155.8,324.3 157.4,339.8 159.3,331.5 162.2,324.3 170.5,324.3 172.4,342.1 175.5,348.1 195.0,348.1 196.8,352.8 198.5,364.5"/><polyline points="116.1,365.5 117.0,344.3 119.0,325.3 121.4,316.3 125.6,316.3 129.7,325.3 134.4,325.3 136.0,299.2 139.2,293.3 144.0,292.5 147.0,283.8 152.2,283.8 153.4,293.3 155.8,325.3 157.4,340.8 159.3,332.5 162.2,325.3 170.5,325.3 172.4,343.1 175.5,349.1 195.0,349.1 196.8,353.8 198.5,365.5"/></g>
<g class="ln" stroke="#0000cd" stroke-width="1"><polyline points="244.5,364.5 245.5,354.5 247.0,337.0 248.0,331.5 252.5,324.5 255.0,324.5 257.0,332.0 259.5,318.3 262.0,299.5 267.0,299.5 268.8,310.8 270.5,323.3 276.3,324.0 278.8,332.0 283.0,332.5 285.5,348.3 291.3,348.3 293.0,329.5 294.0,315.8 301.3,315.8 303.3,323.3 305.0,307.0 306.3,292.5 318.8,292.5 321.3,299.5 324.5,299.5 327.5,288.3 329.5,282.0 342.0,282.0 343.8,292.0 345.0,299.5 350.0,299.5 352.0,292.5 354.5,292.5 356.3,307.0 357.5,315.8 360.0,315.8 361.3,302.0 362.5,292.5 373.8,292.5 375.5,282.5 380.0,282.5 382.5,292.0 383.8,297.0 386.3,292.0 388.8,292.0 390.0,304.5 391.3,315.0 396.3,315.0 398.8,340.8 401.3,315.8 402.5,302.0 405.0,292.0 408.8,292.0 412.0,299.0 416.3,299.0 420.0,292.0 425.0,292.0 427.5,299.0 429.5,275.8 437.5,275.8 440.0,283.3 442.5,299.0 450.0,299.0 452.5,292.0 458.0,292.0 460.5,275.8 468.0,275.8 470.0,259.5 476.3,259.0 478.0,244.5 478.8,233.8 483.8,233.8 485.0,249.5 487.0,265.8 491.3,266.5 495.0,275.8 497.5,262.0 499.5,250.0 501.3,250.0 503.0,269.5 505.0,282.5 508.8,275.8 517.5,275.8 519.5,265.8 522.5,259.5 532.5,259.5 533.8,272.0 535.0,287.0 535.8,292.5 537.0,275.3 540.0,275.3 542.0,259.5 543.8,239.5 545.5,229.5 547.0,226.3 550.5,226.3 552.5,239.5 555.0,243.3 556.3,259.5 557.5,287.0 558.3,300.8 559.5,269.5 560.8,250.8 565.0,250.8 566.3,265.8 567.5,282.0 569.5,295.0 572.5,300.8 574.5,310.8 576.0,319.5 577.5,332.0 579.0,319.5 581.3,292.5 586.3,292.5 588.8,275.3 594.5,275.3 596.3,294.5 596.8,299.5 598.0,282.0 599.5,275.3 603.8,275.3 607.5,266.3 612.5,266.3 613.8,289.5 615.0,315.0 620.0,315.0 623.0,308.3 625.0,308.3 627.5,323.3 630.5,324.5 632.5,354.5 633.8,339.5 635.5,332.0 650.0,332.0 652.5,345.8 655.5,350.8 658.0,364.5"/><polyline points="244.5,365.5 245.5,355.5 247.0,338.0 248.0,332.5 252.5,325.5 255.0,325.5 257.0,333.0 259.5,319.3 262.0,300.5 267.0,300.5 268.8,311.8 270.5,324.3 276.3,325.0 278.8,333.0 283.0,333.5 285.5,349.3 291.3,349.3 293.0,330.5 294.0,316.8 301.3,316.8 303.3,324.3 305.0,308.0 306.3,293.5 318.8,293.5 321.3,300.5 324.5,300.5 327.5,289.3 329.5,283.0 342.0,283.0 343.8,293.0 345.0,300.5 350.0,300.5 352.0,293.5 354.5,293.5 356.3,308.0 357.5,316.8 360.0,316.8 361.3,303.0 362.5,293.5 373.8,293.5 375.5,283.5 380.0,283.5 382.5,293.0 383.8,298.0 386.3,293.0 388.8,293.0 390.0,305.5 391.3,316.0 396.3,316.0 398.8,341.8 401.3,316.8 402.5,303.0 405.0,293.0 408.8,293.0 412.0,300.0 416.3,300.0 420.0,293.0 425.0,293.0 427.5,300.0 429.5,276.8 437.5,276.8 440.0,284.3 442.5,300.0 450.0,300.0 452.5,293.0 458.0,293.0 460.5,276.8 468.0,276.8 470.0,260.5 476.3,260.0 478.0,245.5 478.8,234.8 483.8,234.8 485.0,250.5 487.0,266.8 491.3,267.5 495.0,276.8 497.5,263.0 499.5,251.0 501.3,251.0 503.0,270.5 505.0,283.5 508.8,276.8 517.5,276.8 519.5,266.8 522.5,260.5 532.5,260.5 533.8,273.0 535.0,288.0 535.8,293.5 537.0,276.3 540.0,276.3 542.0,260.5 543.8,240.5 545.5,230.5 547.0,227.3 550.5,227.3 552.5,240.5 555.0,244.3 556.3,260.5 557.5,288.0 558.3,301.8 559.5,270.5 560.8,251.8 565.0,251.8 566.3,266.8 567.5,283.0 569.5,296.0 572.5,301.8 574.5,311.8 576.0,320.5 577.5,333.0 579.0,320.5 581.3,293.5 586.3,293.5 588.8,276.3 594.5,276.3 596.3,295.5 596.8,300.5 598.0,283.0 599.5,276.3 603.8,276.3 607.5,267.3 612.5,267.3 613.8,290.5 615.0,316.0 620.0,316.0 623.0,309.3 625.0,309.3 627.5,324.3 630.5,325.5 632.5,355.5 633.8,340.5 635.5,333.0 650.0,333.0 652.5,346.8 655.5,351.8 658.0,365.5"/></g>
<g class="ln" stroke="#000000" stroke-width="1"><polyline points="118.5,364.5 121.4,348.5 134.4,348.5 136.8,341.7 154.0,341.7 157.0,346.9 159.3,356.4 162.2,348.5 170.5,348.5 173.6,357.1 176.0,358.0 177.9,364.5 183.5,364.5 185.4,357.5 190.2,357.5 192.6,364.5"/><polyline points="118.5,365.5 121.4,349.5 134.4,349.5 136.8,342.7 154.0,342.7 157.0,347.9 159.3,357.4 162.2,349.5 170.5,349.5 173.6,358.1 176.0,359.0 177.9,365.5 183.5,365.5 185.4,358.5 190.2,358.5 192.6,365.5"/></g>
<g class="ln" stroke="#000000" stroke-width="1"><polyline points="244.5,364.5 247.0,357.0 250.5,353.3 252.5,349.0 262.0,349.0 263.8,353.3 266.3,357.5 285.5,357.5 287.5,360.8 289.5,364.5 291.3,362.0 293.0,357.5 306.3,357.5 308.0,353.3 309.5,349.0 323.8,349.0 325.5,353.3 327.0,357.5 328.8,350.8 332.5,345.8 334.5,342.0 347.0,342.0 349.5,345.8 351.3,349.0 360.0,349.0 362.0,357.5 363.8,353.3 366.3,349.0 368.8,345.8 370.0,342.0 377.5,342.0 380.0,347.5 387.5,348.3 388.8,357.0 401.3,357.0 403.8,348.3 415.0,348.3 417.5,357.0 430.0,357.0 433.8,342.0 442.5,340.8 445.5,348.3 460.0,348.3 463.8,341.5 467.5,340.8 473.0,324.5 487.5,324.5 491.3,332.0 496.3,332.0 499.3,340.8 503.8,341.5 506.8,347.5 510.0,340.8 513.8,339.5 515.5,332.0 520.0,331.5 524.3,315.8 532.5,315.8 536.3,324.5 538.0,325.8 541.3,341.5 543.0,340.8 547.5,324.5 558.8,324.5 563.8,340.8 571.3,341.5 574.3,357.0 583.8,357.0 586.3,348.3 607.5,348.3 610.0,341.5 613.8,341.5 616.3,345.8 620.0,357.0 636.3,357.5 638.0,364.5 640.0,358.3 641.3,357.0 650.0,357.0 652.0,360.8 653.0,364.5"/><polyline points="244.5,365.5 247.0,358.0 250.5,354.3 252.5,350.0 262.0,350.0 263.8,354.3 266.3,358.5 285.5,358.5 287.5,361.8 289.5,365.5 291.3,363.0 293.0,358.5 306.3,358.5 308.0,354.3 309.5,350.0 323.8,350.0 325.5,354.3 327.0,358.5 328.8,351.8 332.5,346.8 334.5,343.0 347.0,343.0 349.5,346.8 351.3,350.0 360.0,350.0 362.0,358.5 363.8,354.3 366.3,350.0 368.8,346.8 370.0,343.0 377.5,343.0 380.0,348.5 387.5,349.3 388.8,358.0 401.3,358.0 403.8,349.3 415.0,349.3 417.5,358.0 430.0,358.0 433.8,343.0 442.5,341.8 445.5,349.3 460.0,349.3 463.8,342.5 467.5,341.8 473.0,325.5 487.5,325.5 491.3,333.0 496.3,333.0 499.3,341.8 503.8,342.5 506.8,348.5 510.0,341.8 513.8,340.5 515.5,333.0 520.0,332.5 524.3,316.8 532.5,316.8 536.3,325.5 538.0,326.8 541.3,342.5 543.0,341.8 547.5,325.5 558.8,325.5 563.8,341.8 571.3,342.5 574.3,358.0 583.8,358.0 586.3,349.3 607.5,349.3 610.0,342.5 613.8,342.5 616.3,346.8 620.0,358.0 636.3,358.5 638.0,365.5 640.0,359.3 641.3,358.0 650.0,358.0 652.0,361.8 653.0,365.5"/></g>
<g class="ce">
<rect x="70" y="365" width="736" height="1" fill="#000"/>
<rect x="70" y="366" width="736" height="1" fill="#ffff00"/>
<rect x="85" y="367" width="1" height="1" fill="#000"/>
<rect x="100" y="367" width="1" height="1" fill="#000"/>
<rect x="116" y="367" width="1" height="1" fill="#000"/>
<rect x="131" y="367" width="1" height="1" fill="#000"/>
<rect x="147" y="367" width="1" height="1" fill="#000"/>
<rect x="162" y="367" width="1" height="1" fill="#000"/>
<rect x="177" y="367" width="1" height="1" fill="#000"/>
<rect x="193" y="367" width="1" height="1" fill="#000"/>
<rect x="208" y="367" width="1" height="1" fill="#000"/>
<rect x="224" y="367" width="1" height="1" fill="#000"/>
<rect x="239" y="367" width="1" height="1" fill="#000"/>
<rect x="255" y="367" width="1" height="1" fill="#000"/>
<rect x="270" y="367" width="1" height="1" fill="#000"/>
<rect x="285" y="367" width="1" height="1" fill="#000"/>
<rect x="301" y="367" width="1" height="1" fill="#000"/>
<rect x="316" y="367" width="1" height="1" fill="#000"/>
<rect x="332" y="367" width="1" height="1" fill="#000"/>
<rect x="347" y="367" width="1" height="1" fill="#000"/>
<rect x="362" y="367" width="1" height="1" fill="#000"/>
<rect x="378" y="367" width="1" height="1" fill="#000"/>
<rect x="393" y="367" width="1" height="1" fill="#000"/>
<rect x="409" y="367" width="1" height="1" fill="#000"/>
<rect x="424" y="367" width="1" height="1" fill="#000"/>
<rect x="440" y="367" width="1" height="1" fill="#000"/>
<rect x="455" y="367" width="1" height="1" fill="#000"/>
<rect x="470" y="367" width="1" height="1" fill="#000"/>
<rect x="486" y="367" width="1" height="1" fill="#000"/>
<rect x="501" y="367" width="1" height="1" fill="#000"/>
<rect x="517" y="367" width="1" height="1" fill="#000"/>
<rect x="532" y="367" width="1" height="1" fill="#000"/>
<rect x="548" y="367" width="1" height="1" fill="#000"/>
<rect x="563" y="367" width="1" height="1" fill="#000"/>
<rect x="578" y="367" width="1" height="1" fill="#000"/>
<rect x="594" y="367" width="1" height="1" fill="#000"/>
<rect x="609" y="367" width="1" height="1" fill="#000"/>
<rect x="625" y="367" width="1" height="1" fill="#000"/>
<rect x="640" y="367" width="1" height="1" fill="#000"/>
<rect x="655" y="367" width="1" height="1" fill="#000"/>
<rect x="671" y="367" width="1" height="1" fill="#000"/>
<rect x="686" y="367" width="1" height="1" fill="#000"/>
<rect x="702" y="367" width="1" height="1" fill="#000"/>
<rect x="717" y="367" width="1" height="1" fill="#000"/>
<rect x="733" y="367" width="1" height="1" fill="#000"/>
<rect x="748" y="367" width="1" height="1" fill="#000"/>
<rect x="763" y="367" width="1" height="1" fill="#000"/>
<rect x="779" y="367" width="1" height="1" fill="#000"/>
<rect x="794" y="367" width="1" height="1" fill="#000"/>
<rect x="70" y="398" width="736" height="1" fill="#ff00ff"/>
</g>
<circle cx="239.5" cy="360.5" r="4" fill="#ffff00" stroke="#000" stroke-width="1"/>
<circle cx="697.5" cy="360.5" r="4" fill="#ffff00" stroke="#000" stroke-width="1"/>
<g class="ce" fill="#228b22">
<rect x="28" y="40" width="1" height="327"/>
<rect x="26" y="365" width="4" height="1"/>
<rect x="26" y="348" width="4" height="1"/>
<rect x="26" y="332" width="4" height="1"/>
<rect x="26" y="316" width="4" height="1"/>
<rect x="26" y="299" width="4" height="1"/>
<rect x="26" y="283" width="4" height="1"/>
<rect x="26" y="267" width="4" height="1"/>
<rect x="26" y="250" width="4" height="1"/>
<rect x="26" y="234" width="4" height="1"/>
<rect x="26" y="218" width="4" height="1"/>
<rect x="26" y="201" width="4" height="1"/>
<rect x="26" y="185" width="4" height="1"/>
<rect x="26" y="169" width="4" height="1"/>
<rect x="26" y="152" width="4" height="1"/>
<rect x="26" y="136" width="4" height="1"/>
<rect x="26" y="120" width="4" height="1"/>
<rect x="26" y="103" width="4" height="1"/>
<rect x="26" y="87" width="4" height="1"/>
<rect x="26" y="71" width="4" height="1"/>
<rect x="26" y="55" width="4" height="1"/>
</g>
<g fill="#228b22"><use href="#g31" x="3" y="361"/><use href="#g30" x="8" y="361"/><use href="#g31" x="13" y="361"/><use href="#g34" x="18" y="361"/></g>
<g fill="#228b22"><use href="#g31" x="3" y="344"/><use href="#g30" x="8" y="344"/><use href="#g31" x="13" y="344"/><use href="#g35" x="18" y="344"/></g>
<g fill="#228b22"><use href="#g31" x="3" y="328"/><use href="#g30" x="8" y="328"/><use href="#g31" x="13" y="328"/><use href="#g36" x="18" y="328"/></g>
<g fill="#228b22"><use href="#g31" x="3" y="312"/><use href="#g30" x="8" y="312"/><use href="#g31" x="13" y="312"/><use href="#g37" x="18" y="312"/></g>
<g fill="#228b22"><use href="#g31" x="3" y="295"/><use href="#g30" x="8" y="295"/><use href="#g31" x="13" y="295"/><use href="#g38" x="18" y="295"/></g>
<g fill="#228b22"><use href="#g31" x="3" y="279"/><use href="#g30" x="8" y="279"/><use href="#g31" x="13" y="279"/><use href="#g39" x="18" y="279"/></g>
<g fill="#228b22"><use href="#g31" x="3" y="263"/><use href="#g30" x="8" y="263"/><use href="#g32" x="13" y="263"/><use href="#g30" x="18" y="263"/></g>
<g fill="#228b22"><use href="#g31" x="3" y="246"/><use href="#g30" x="8" y="246"/><use href="#g32" x="13" y="246"/><use href="#g31" x="18" y="246"/></g>
<g fill="#228b22"><use href="#g31" x="3" y="230"/><use href="#g30" x="8" y="230"/><use href="#g32" x="13" y="230"/><use href="#g32" x="18" y="230"/></g>
<g fill="#228b22"><use href="#g31" x="3" y="214"/><use href="#g30" x="8" y="214"/><use href="#g32" x="13" y="214"/><use href="#g33" x="18" y="214"/></g>
<g fill="#228b22"><use href="#g31" x="3" y="197"/><use href="#g30" x="8" y="197"/><use href="#g32" x="13" y="197"/><use href="#g34" x="18" y="197"/></g>
<g fill="#228b22"><use href="#g31" x="3" y="181"/><use href="#g30" x="8" y="181"/><use href="#g32" x="13" y="181"/><use href="#g35" x="18" y="181"/></g>
<g fill="#228b22"><use href="#g31" x="3" y="165"/><use href="#g30" x="8" y="165"/><use href="#g32" x="13" y="165"/><use href="#g36" x="18" y="165"/></g>
<g fill="#228b22"><use href="#g31" x="3" y="148"/><use href="#g30" x="8" y="148"/><use href="#g32" x="13" y="148"/><use href="#g37" x="18" y="148"/></g>
<g fill="#228b22"><use href="#g31" x="3" y="132"/><use href="#g30" x="8" y="132"/><use href="#g32" x="13" y="132"/><use href="#g38" x="18" y="132"/></g>
<g fill="#228b22"><use href="#g31" x="3" y="116"/><use href="#g30" x="8" y="116"/><use href="#g32" x="13" y="116"/><use href="#g39" x="18" y="116"/></g>
<g fill="#228b22"><use href="#g31" x="3" y="99"/><use href="#g30" x="8" y="99"/><use href="#g33" x="13" y="99"/><use href="#g30" x="18" y="99"/></g>
<g fill="#228b22"><use href="#g31" x="3" y="83"/><use href="#g30" x="8" y="83"/><use href="#g33" x="13" y="83"/><use href="#g31" x="18" y="83"/></g>
<g fill="#228b22"><use href="#g31" x="3" y="67"/><use href="#g30" x="8" y="67"/><use href="#g33" x="13" y="67"/><use href="#g32" x="18" y="67"/></g>
<g fill="#228b22"><use href="#g31" x="3" y="51"/><use href="#g30" x="8" y="51"/><use href="#g33" x="13" y="51"/><use href="#g33" x="18" y="51"/></g>
<g fill="#228b22"><use href="#g68" x="6" y="40"/><use href="#g50" x="11" y="40"/><use href="#g61" x="16" y="40"/></g>
<g class="ce" fill="#9400d3">
<rect x="50" y="40" width="1" height="327"/>
<rect x="48" y="365" width="4" height="1"/>
<rect x="48" y="334" width="4" height="1"/>
<rect x="48" y="303" width="4" height="1"/>
<rect x="48" y="272" width="4" height="1"/>
<rect x="48" y="241" width="4" height="1"/>
<rect x="48" y="210" width="4" height="1"/>
<rect x="48" y="179" width="4" height="1"/>
<rect x="48" y="148" width="4" height="1"/>
<rect x="48" y="117" width="4" height="1"/>
<rect x="48" y="86" width="4" height="1"/>
<rect x="48" y="55" width="4" height="1"/>
</g>
<g fill="#9400d3"><use href="#g30" x="40" y="361"/></g>
<g fill="#9400d3"><use href="#g31" x="35" y="330"/><use href="#g30" x="40" y="330"/></g>
<g fill="#9400d3"><use href="#g32" x="35" y="299"/><use href="#g30" x="40" y="299"/></g>
<g fill="#9400d3"><use href="#g33" x="35" y="268"/><use href="#g30" x="40" y="268"/></g>
<g fill="#9400d3"><use href="#g34" x="35" y="237"/><use href="#g30" x="40" y="237"/></g>
<g fill="#9400d3"><use href="#g35" x="35" y="206"/><use href="#g30" x="40" y="206"/></g>
<g fill="#9400d3"><use href="#g36" x="35" y="175"/><use href="#g30" x="40" y="175"/></g>
<g fill="#9400d3"><use href="#g37" x="35" y="144"/><use href="#g30" x="40" y="144"/></g>
<g fill="#9400d3"><use href="#g38" x="35" y="113"/><use href="#g30" x="40" y="113"/></g>
<g fill="#9400d3"><use href="#g39" x="35" y="82"/><use href="#g30" x="40" y="82"/></g>
<g fill="#9400d3"><use href="#g31" x="30" y="51"/><use href="#g30" x="35" y="51"/><use href="#g30" x="40" y="51"/></g>
<g fill="#9400d3"><use href="#g25" x="40" y="40"/></g>
<g class="ce" fill="#ff0000">
<rect x="70" y="40" width="1" height="327"/>
<rect x="68" y="365" width="4" height="1"/>
<rect x="68" y="342" width="4" height="1"/>
<rect x="68" y="320" width="4" height="1"/>
<rect x="68" y="298" width="4" height="1"/>
<rect x="68" y="276" width="4" height="1"/>
<rect x="68" y="254" width="4" height="1"/>
<rect x="68" y="232" width="4" height="1"/>
<rect x="68" y="210" width="4" height="1"/>
<rect x="68" y="187" width="4" height="1"/>
<rect x="68" y="165" width="4" height="1"/>
<rect x="68" y="143" width="4" height="1"/>
<rect x="68" y="121" width="4" height="1"/>
<rect x="68" y="99" width="4" height="1"/>
<rect x="68" y="77" width="4" height="1"/>
<rect x="68" y="55" width="4" height="1"/>
</g>
<g fill="#ff0000"><use href="#g33" x="62" y="361"/></g>
<g fill="#ff0000"><use href="#g35" x="62" y="338"/></g>
<g fill="#ff0000"><use href="#g37" x="62" y="316"/></g>
<g fill="#ff0000"><use href="#g39" x="62" y="294"/></g>
<g fill="#ff0000"><use href="#g31" x="57" y="272"/><use href="#g31" x="62" y="272"/></g>
<g fill="#ff0000"><use href="#g31" x="57" y="250"/><use href="#g33" x="62" y="250"/></g>
<g fill="#ff0000"><use href="#g31" x="57" y="228"/><use href="#g35" x="62" y="228"/></g>
<g fill="#ff0000"><use href="#g31" x="57" y="206"/><use href="#g37" x="62" y="206"/></g>
<g fill="#ff0000"><use href="#g31" x="57" y="183"/><use href="#g39" x="62" y="183"/></g>
<g fill="#ff0000"><use href="#g32" x="57" y="161"/><use href="#g31" x="62" y="161"/></g>
<g fill="#ff0000"><use href="#g32" x="57" y="139"/><use href="#g33" x="62" y="139"/></g>
<g fill="#ff0000"><use href="#g32" x="57" y="117"/><use href="#g35" x="62" y="117"/></g>
<g fill="#ff0000"><use href="#g32" x="57" y="95"/><use href="#g37" x="62" y="95"/></g>
<g fill="#ff0000"><use href="#g32" x="57" y="73"/><use href="#g39" x="62" y="73"/></g>
<g fill="#ff0000"><use href="#g33" x="57" y="51"/><use href="#g31" x="62" y="51"/></g>
<g fill="#ff0000"><use href="#gb0" x="57" y="40"/><use href="#g43" x="62" y="40"/></g>
<rect class="ce" x="69" y="68" width="4" height="5" fill="#696969"/>
<g class="ce" fill="#696969">
<rect x="805" y="40" width="1" height="327"/>
<rect x="805" y="55" width="2" height="1"/>
<rect x="805" y="93" width="2" height="1"/>
<rect x="805" y="132" width="2" height="1"/>
<rect x="805" y="171" width="2" height="1"/>
<rect x="805" y="210" width="2" height="1"/>
<rect x="805" y="248" width="2" height="1"/>
<rect x="805" y="287" width="2" height="1"/>
<rect x="805" y="326" width="2" height="1"/>
</g>
<g fill="#787878"><use href="#g33" x="808" y="51"/><use href="#g36" x="813" y="51"/><use href="#g30" x="818" y="51"/></g>
<g fill="#787878"><use href="#g4e" x="813" y="59"/></g>
<g fill="#787878"><use href="#g33" x="808" y="89"/><use href="#g31" x="813" y="89"/><use href="#g35" x="818" y="89"/></g>
<g fill="#787878"><use href="#g4e" x="808" y="97"/><use href="#g57" x="813" y="97"/></g>
<g fill="#787878"><use href="#g32" x="808" y="128"/><use href="#g37" x="813" y="128"/><use href="#g30" x="818" y="128"/></g>
<g fill="#787878"><use href="#g57" x="813" y="136"/></g>
<g fill="#787878"><use href="#g32" x="808" y="167"/><use href="#g32" x="813" y="167"/><use href="#g35" x="818" y="167"/></g>
<g fill="#787878"><use href="#g53" x="808" y="175"/><use href="#g57" x="813" y="175"/></g>
<g fill="#787878"><use href="#g31" x="808" y="206"/><use href="#g38" x="813" y="206"/><use href="#g30" x="818" y="206"/></g>
<g fill="#787878"><use href="#g53" x="813" y="214"/></g>
<g fill="#787878"><use href="#g31" x="808" y="244"/><use href="#g33" x="813" y="244"/><use href="#g35" x="818" y="244"/></g>
<g fill="#787878"><use href="#g53" x="808" y="252"/><use href="#g45" x="813" y="252"/></g>
<g fill="#787878"><use href="#g39" x="808" y="283"/><use href="#g30" x="813" y="283"/></g>
<g fill="#787878"><use href="#g45" x="813" y="291"/></g>
<g fill="#787878"><use href="#g34" x="808" y="322"/><use href="#g35" x="813" y="322"/></g>
<g fill="#787878"><use href="#g4e" x="808" y="330"/><use href="#g45" x="813" y="330"/></g>
<g fill="#787878"><use href="#gb0" x="808" y="40"/></g>
<g class="ce" fill="#000000">
<rect x="825" y="40" width="1" height="327"/>
<rect x="823" y="365" width="4" height="1"/>
<rect x="823" y="346" width="4" height="1"/>
<rect x="823" y="328" width="4" height="1"/>
<rect x="823" y="310" width="4" height="1"/>
<rect x="823" y="292" width="4" height="1"/>
<rect x="823" y="273" width="4" height="1"/>
<rect x="823" y="255" width="4" height="1"/>
<rect x="823" y="237" width="4" height="1"/>
<rect x="823" y="219" width="4" height="1"/>
<rect x="823" y="200" width="4" height="1"/>
<rect x="823" y="182" width="4" height="1"/>
<rect x="823" y="164" width="4" height="1"/>
<rect x="823" y="146" width="4" height="1"/>
<rect x="823" y="127" width="4" height="1"/>
<rect x="823" y="109" width="4" height="1"/>
<rect x="823" y="91" width="4" height="1"/>
<rect x="823" y="73" width="4" height="1"/>
<rect x="823" y="55" width="4" height="1"/>
</g>
<g fill="#000000"><use href="#g30" x="828" y="361"/></g>
<g fill="#000000"><use href="#g31" x="828" y="342"/></g>
<g fill="#000000"><use href="#g32" x="828" y="324"/></g>
<g fill="#000000"><use href="#g33" x="828" y="306"/></g>
<g fill="#000000"><use href="#g34" x="828" y="288"/></g>
<g fill="#000000"><use href="#g35" x="828" y="269"/></g>
<g fill="#000000"><use href="#g36" x="828" y="251"/></g>
<g fill="#000000"><use href="#g37" x="828" y="233"/></g>
<g fill="#000000"><use href="#g38" x="828" y="215"/></g>
<g fill="#000000"><use href="#g39" x="828" y="196"/></g>
<g fill="#000000"><use href="#g31" x="828" y="178"/><use href="#g30" x="833" y="178"/></g>
<g fill="#000000"><use href="#g31" x="828" y="160"/><use href="#g31" x="833" y="160"/></g>
<g fill="#000000"><use href="#g31" x="828" y="142"/><use href="#g32" x="833" y="142"/></g>
<g fill="#000000"><use href="#g31" x="828" y="123"/><use href="#g33" x="833" y="123"/></g>
<g fill="#000000"><use href="#g31" x="828" y="105"/><use href="#g34" x="833" y="105"/></g>
<g fill="#000000"><use href="#g31" x="828" y="87"/><use href="#g35" x="833" y="87"/></g>
<g fill="#000000"><use href="#g31" x="828" y="69"/><use href="#g36" x="833" y="69"/></g>
<g fill="#000000"><use href="#g31" x="828" y="51"/><use href="#g37" x="833" y="51"/></g>
<g fill="#000000"><use href="#g6d" x="828" y="40"/><use href="#g2f" x="833" y="40"/><use href="#g73" x="838" y="40"/></g>
<g class="ce" fill="#00bfff">
<rect x="845" y="40" width="1" height="327"/>
<rect x="843" y="365" width="4" height="1"/>
<rect x="843" y="55" width="4" height="1"/>
</g>
<g fill="#00bfff"><use href="#g30" x="848" y="361"/></g>
<g fill="#00bfff"><use href="#g31" x="848" y="51"/></g>
<g fill="#00bfff"><use href="#g6d" x="848" y="40"/><use href="#g6d" x="853" y="40"/></g>
<g class="ce" fill="#ffff00">
<rect x="860" y="40" width="1" height="327"/>
<rect x="858" y="365" width="4" height="1"/>
<rect x="858" y="303" width="4" height="1"/>
<rect x="858" y="241" width="4" height="1"/>
<rect x="858" y="179" width="4" height="1"/>
<rect x="858" y="117" width="4" height="1"/>
<rect x="858" y="55" width="4" height="1"/>
</g>
<g fill="#ffff00"><use href="#g30" x="863" y="361"/></g>
<g fill="#ffff00"><use href="#g31" x="863" y="299"/></g>
<g fill="#ffff00"><use href="#g32" x="863" y="237"/></g>
<g fill="#ffff00"><use href="#g33" x="863" y="175"/></g>
<g fill="#ffff00"><use href="#g34" x="863" y="113"/></g>
<g fill="#ffff00"><use href="#g35" x="863" y="51"/></g>
<g class="ce" fill="#ff7f00">
<rect x="875" y="40" width="1" height="327"/>
<rect x="873" y="365" width="4" height="1"/>
<rect x="873" y="349" width="4" height="1"/>
<rect x="873" y="334" width="4" height="1"/>
<rect x="873" y="318" width="4" height="1"/>
<rect x="873" y="303" width="4" height="1"/>
<rect x="873" y="287" width="4" height="1"/>
<rect x="873" y="272" width="4" height="1"/>
<rect x="873" y="256" width="4" height="1"/>
<rect x="873" y="241" width="4" height="1"/>
<rect x="873" y="225" width="4" height="1"/>
<rect x="873" y="210" width="4" height="1"/>
</g>
<g fill="#ff7f00"><use href="#g30" x="878" y="361"/></g>
<g fill="#ff7f00"><use href="#g31" x="878" y="345"/><use href="#g35" x="883" y="345"/><use href="#g30" x="888" y="345"/></g>
<g fill="#ff7f00"><use href="#g33" x="878" y="330"/><use href="#g30" x="883" y="330"/><use href="#g30" x="888" y="330"/></g>
<g fill="#ff7f00"><use href="#g34" x="878" y="314"/><use href="#g35" x="883" y="314"/><use href="#g30" x="888" y="314"/></g>
<g fill="#ff7f00"><use href="#g36" x="878" y="299"/><use href="#g30" x="883" y="299"/><use href="#g30" x="888" y="299"/></g>
<g fill="#ff7f00"><use href="#g37" x="878" y="283"/><use href="#g35" x="883" y="283"/><use href="#g30" x="888" y="283"/></g>
<g fill="#ff7f00"><use href="#g39" x="878" y="268"/><use href="#g30" x="883" y="268"/><use href="#g30" x="888" y="268"/></g>
<g fill="#ff7f00"><use href="#g31" x="878" y="252"/><use href="#g30" x="883" y="252"/><use href="#g35" x="888" y="252"/><use href="#g30" x="893" y="252"/></g>
<g fill="#ff7f00"><use href="#g31" x="878" y="237"/><use href="#g32" x="883" y="237"/><use href="#g30" x="888" y="237"/><use href="#g30" x="893" y="237"/></g>
<g fill="#ff7f00"><use href="#g31" x="878" y="221"/><use href="#g33" x="883" y="221"/><use href="#g35" x="888" y="221"/><use href="#g30" x="893" y="221"/></g>
<g fill="#ff7f00"><use href="#g31" x="878" y="206"/><use href="#g35" x="883" y="206"/><use href="#g30" x="888" y="206"/><use href="#g30" x="893" y="206"/></g>
<g fill="#ff7f00"><use href="#g57" x="878" y="40"/></g>
<g fill="#000000"><use href="#g10d" x="815" y="370"/><use href="#g61" x="820" y="370"/><use href="#g73" x="825" y="370"/></g>
<g fill="#000000" transform="translate(66,397) rotate(-90)"><use href="#g30" x="0" y="0"/><use href="#g30" x="5" y="0"/><use href="#g3a" x="10" y="0"/><use href="#g30" x="15" y="0"/><use href="#g35" x="20" y="0"/></g>
<g fill="#000000" transform="translate(81,397) rotate(-90)"><use href="#g30" x="0" y="0"/><use href="#g30" x="5" y="0"/><use href="#g3a" x="10" y="0"/><use href="#g33" x="15" y="0"/><use href="#g35" x="20" y="0"/></g>
<g fill="#000000" transform="translate(96,397) rotate(-90)"><use href="#g30" x="0" y="0"/><use href="#g31" x="5" y="0"/><use href="#g3a" x="10" y="0"/><use href="#g30" x="15" y="0"/><use href="#g35" x="20" y="0"/></g>
<g fill="#000000" transform="translate(112,397) rotate(-90)"><use href="#g30" x="0" y="0"/><use href="#g31" x="5" y="0"/><use href="#g3a" x="10" y="0"/><use href="#g33" x="15" y="0"/><use href="#g35" x="20" y="0"/></g>
<g fill="#000000" transform="translate(127,397) rotate(-90)"><use href="#g30" x="0" y="0"/><use href="#g32" x="5" y="0"/><use href="#g3a" x="10" y="0"/><use href="#g30" x="15" y="0"/><use href="#g35" x="20" y="0"/></g>
<g fill="#000000" transform="translate(143,397) rotate(-90)"><use href="#g30" x="0" y="0"/><use href="#g32" x="5" y="0"/><use href="#g3a" x="10" y="0"/><use href="#g33" x="15" y="0"/><use href="#g35" x="20" y="0"/></g>
<g fill="#000000" transform="translate(158,397) rotate(-90)"><use href="#g30" x="0" y="0"/><use href="#g33" x="5" y="0"/><use href="#g3a" x="10" y="0"/><use href="#g30" x="15" y="0"/><use href="#g35" x="20" y="0"/></g>
<g fill="#000000" transform="translate(173,397) rotate(-90)"><use href="#g30" x="0" y="0"/><use href="#g33" x="5" y="0"/><use href="#g3a" x="10" y="0"/><use href="#g33" x="15" y="0"/><use href="#g35" x="20" y="0"/></g>
<g fill="#000000" transform="translate(189,397) rotate(-90)"><use href="#g30" x="0" y="0"/><use href="#g34" x="5" y="0"/><use href="#g3a" x="10" y="0"/><use href="#g30" x="15" y="0"/><use href="#g35" x="20" y="0"/></g>
<g fill="#000000" transform="translate(204,397) rotate(-90)"><use href="#g30" x="0" y="0"/><use href="#g34" x="5" y="0"/><use href="#g3a" x="10" y="0"/><use href="#g33" x="15" y="0"/><use href="#g35" x="20" y="0"/></g>
<g fill="#000000" transform="translate(220,397) rotate(-90)"><use href="#g30" x="0" y="0"/><use href="#g35" x="5" y="0"/><use href="#g3a" x="10" y="0"/><use href="#g30" x="15" y="0"/><use href="#g35" x="20" y="0"/></g>
<g fill="#000000" transform="translate(235,397) rotate(-90)"><use href="#g30" x="0" y="0"/><use href="#g35" x="5" y="0"/><use href="#g3a" x="10" y="0"/><use href="#g33" x="15" y="0"/><use href="#g35" x="20" y="0"/></g>
<g fill="#000000" transform="translate(251,397) rotate(-90)"><use href="#g30" x="0" y="0"/><use href="#g36" x="5" y="0"/><use href="#g3a" x="10" y="0"/><use href="#g30" x="15" y="0"/><use href="#g35" x="20" y="0"/></g>
<g fill="#000000" transform="translate(266,397) rotate(-90)"><use href="#g30" x="0" y="0"/><use href="#g36" x="5" y="0"/><use href="#g3a" x="10" y="0"/><use href="#g33" x="15" y="0"/><use href="#g35" x="20" y="0"/></g>
<g fill="#000000" transform="translate(281,397) rotate(-90)"><use href="#g30" x="0" y="0"/><use href="#g37" x="5" y="0"/><use href="#g3a" x="10" y="0"/><use href="#g30" x="15" y="0"/><use href="#g35" x="20" y="0"/></g>
<g fill="#000000" transform="translate(297,397) rotate(-90)"><use href="#g30" x="0" y="0"/><use href="#g37" x="5" y="0"/><use href="#g3a" x="10" y="0"/><use href="#g33" x="15" y="0"/><use href="#g35" x="20" y="0"/></g>
<g fill="#000000" transform="translate(312,397) rotate(-90)"><use href="#g30" x="0" y="0"/><use href="#g38" x="5" y="0"/><use href="#g3a" x="10" y="0"/><use href="#g30" x="15" y="0"/><use href="#g35" x="20" y="0"/></g>
<g fill="#000000" transform="translate(328,397) rotate(-90)"><use href="#g30" x="0" y="0"/><use href="#g38" x="5" y="0"/><use href="#g3a" x="10" y="0"/><use href="#g33" x="15" y="0"/><use href="#g35" x="20" y="0"/></g>
<g fill="#000000" transform="translate(343,397) rotate(-90)"><use href="#g30" x="0" y="0"/><use href="#g39" x="5" y="0"/><use href="#g3a" x="10" y="0"/><use href="#g30" x="15" y="0"/><use href="#g35" x="20" y="0"/></g>
<g fill="#000000" transform="translate(358,397) rotate(-90)"><use href="#g30" x="0" y="0"/><use href="#g39" x="5" y="0"/><use href="#g3a" x="10" y="0"/><use href="#g33" x="15" y="0"/><use href="#g35" x="20" y="0"/></g>
<g fill="#000000" transform="translate(374,397) rotate(-90)"><use href="#g31" x="0" y="0"/><use href="#g30" x="5" y="0"/><use href="#g3a" x="10" y="0"/><use href="#g30" x="15" y="0"/><use href="#g35" x="20" y="0"/></g>
<g fill="#000000" transform="translate(389,397) rotate(-90)"><use href="#g31" x="0" y="0"/><use href="#g30" x="5" y="0"/><use href="#g3a" x="10" y="0"/><use href="#g33" x="15" y="0"/><use href="#g35" x="20" y="0"/></g>
<g fill="#000000" transform="translate(405,397) rotate(-90)"><use href="#g31" x="0" y="0"/><use href="#g31" x="5" y="0"/><use href="#g3a" x="10" y="0"/><use href="#g30" x="15" y="0"/><use href="#g35" x="20" y="0"/></g>
<g fill="#000000" transform="translate(420,397) rotate(-90)"><use href="#g31" x="0" y="0"/><use href="#g31" x="5" y="0"/><use href="#g3a" x="10" y="0"/><use href="#g33" x="15" y="0"/><use href="#g35" x="20" y="0"/></g>
<g fill="#000000" transform="translate(436,397) rotate(-90)"><use href="#g31" x="0" y="0"/><use href="#g32" x="5" y="0"/><use href="#g3a" x="10" y="0"/><use href="#g30" x="15" y="0"/><use href="#g35" x="20" y="0"/></g>
<g fill="#000000" transform="translate(451,397) rotate(-90)"><use href="#g31" x="0" y="0"/><use href="#g32" x="5" y="0"/><use href="#g3a" x="10" y="0"/><use href="#g33" x="15" y="0"/><use href="#g35" x="20" y="0"/></g>
<g fill="#000000" transform="translate(466,397) rotate(-90)"><use href="#g31" x="0" y="0"/><use href="#g33" x="5" y="0"/><use href="#g3a" x="10" y="0"/><use href="#g30" x="15" y="0"/><use href="#g35" x="20" y="0"/></g>
<g fill="#000000" transform="translate(482,397) rotate(-90)"><use href="#g31" x="0" y="0"/><use href="#g33" x="5" y="0"/><use href="#g3a" x="10" y="0"/><use href="#g33" x="15" y="0"/><use href="#g35" x="20" y="0"/></g>
<g fill="#000000" transform="translate(497,397) rotate(-90)"><use href="#g31" x="0" y="0"/><use href="#g34" x="5" y="0"/><use href="#g3a" x="10" y="0"/><use href="#g30" x="15" y="0"/><use href="#g35" x="20" y="0"/></g>
<g fill="#000000" transform="translate(513,397) rotate(-90)"><use href="#g31" x="0" y="0"/><use href="#g34" x="5" y="0"/><use href="#g3a" x="10" y="0"/><use href="#g33" x="15" y="0"/><use href="#g35" x="20" y="0"/></g>
<g fill="#000000" transform="translate(528,397) rotate(-90)"><use href="#g31" x="0" y="0"/><use href="#g35" x="5" y="0"/><use href="#g3a" x="10" y="0"/><use href="#g30" x="15" y="0"/><use href="#g35" x="20" y="0"/></g>
<g fill="#000000" transform="translate(544,397) rotate(-90)"><use href="#g31" x="0" y="0"/><use href="#g35" x="5" y="0"/><use href="#g3a" x="10" y="0"/><use href="#g33" x="15" y="0"/><use href="#g35" x="20" y="0"/></g>
<g fill="#000000" transform="translate(559,397) rotate(-90)"><use href="#g31" x="0" y="0"/><use href="#g36" x="5" y="0"/><use href="#g3a" x="10" y="0"/><use href="#g30" x="15" y="0"/><use href="#g35" x="20" y="0"/></g>
<g fill="#000000" transform="translate(574,397) rotate(-90)"><use href="#g31" x="0" y="0"/><use href="#g36" x="5" y="0"/><use href="#g3a" x="10" y="0"/><use href="#g33" x="15" y="0"/><use href="#g35" x="20" y="0"/></g>
<g fill="#000000" transform="translate(590,397) rotate(-90)"><use href="#g31" x="0" y="0"/><use href="#g37" x="5" y="0"/><use href="#g3a" x="10" y="0"/><use href="#g30" x="15" y="0"/><use href="#g35" x="20" y="0"/></g>
<g fill="#000000" transform="translate(605,397) rotate(-90)"><use href="#g31" x="0" y="0"/><use href="#g37" x="5" y="0"/><use href="#g3a" x="10" y="0"/><use href="#g33" x="15" y="0"/><use href="#g35" x="20" y="0"/></g>
<g fill="#000000" transform="translate(621,397) rotate(-90)"><use href="#g31" x="0" y="0"/><use href="#g38" x="5" y="0"/><use href="#g3a" x="10" y="0"/><use href="#g30" x="15" y="0"/><use href="#g35" x="20" y="0"/></g>
<g fill="#000000" transform="translate(636,397) rotate(-90)"><use href="#g31" x="0" y="0"/><use href="#g38" x="5" y="0"/><use href="#g3a" x="10" y="0"/><use href="#g33" x="15" y="0"/><use href="#g35" x="20" y="0"/></g>
<g fill="#000000" transform="translate(651,397) rotate(-90)"><use href="#g31" x="0" y="0"/><use href="#g39" x="5" y="0"/><use href="#g3a" x="10" y="0"/><use href="#g30" x="15" y="0"/><use href="#g35" x="20" y="0"/></g>
<g fill="#000000" transform="translate(667,397) rotate(-90)"><use href="#g31" x="0" y="0"/><use href="#g39" x="5" y="0"/><use href="#g3a" x="10" y="0"/><use href="#g33" x="15" y="0"/><use href="#g35" x="20" y="0"/></g>
<g fill="#000000" transform="translate(682,397) rotate(-90)"><use href="#g32" x="0" y="0"/><use href="#g30" x="5" y="0"/><use href="#g3a" x="10" y="0"/><use href="#g30" x="15" y="0"/><use href="#g35" x="20" y="0"/></g>
<g fill="#000000" transform="translate(698,397) rotate(-90)"><use href="#g32" x="0" y="0"/><use href="#g30" x="5" y="0"/><use href="#g3a" x="10" y="0"/><use href="#g33" x="15" y="0"/><use href="#g35" x="20" y="0"/></g>
<g fill="#000000" transform="translate(713,397) rotate(-90)"><use href="#g32" x="0" y="0"/><use href="#g31" x="5" y="0"/><use href="#g3a" x="10" y="0"/><use href="#g30" x="15" y="0"/><use href="#g35" x="20" y="0"/></g>
<g fill="#000000" transform="translate(729,397) rotate(-90)"><use href="#g32" x="0" y="0"/><use href="#g31" x="5" y="0"/><use href="#g3a" x="10" y="0"/><use href="#g33" x="15" y="0"/><use href="#g35" x="20" y="0"/></g>
<g fill="#000000" transform="translate(744,397) rotate(-90)"><use href="#g32" x="0" y="0"/><use href="#g32" x="5" y="0"/><use href="#g3a" x="10" y="0"/><use href="#g30" x="15" y="0"/><use href="#g35" x="20" y="0"/></g>
<g fill="#000000" transform="translate(759,397) rotate(-90)"><use href="#g32" x="0" y="0"/><use href="#g32" x="5" y="0"/><use href="#g3a" x="10" y="0"/><use href="#g33" x="15" y="0"/><use href="#g35" x="20" y="0"/></g>
<g fill="#000000" transform="translate(775,397) rotate(-90)"><use href="#g32" x="0" y="0"/><use href="#g33" x="5" y="0"/><use href="#g3a" x="10" y="0"/><use href="#g30" x="15" y="0"/><use href="#g35" x="20" y="0"/></g>
<g fill="#000000" transform="translate(790,397) rotate(-90)"><use href="#g32" x="0" y="0"/><use href="#g33" x="5" y="0"/><use href="#g3a" x="10" y="0"/><use href="#g33" x="15" y="0"/><use href="#g35" x="20" y="0"/></g>
<rect class="ce" x="10" y="9" width="11" height="2" fill="#ff0000"/>
<g fill="#000000"><use href="#g54" x="25" y="5"/><use href="#g65" x="30" y="5"/><use href="#g70" x="35" y="5"/><use href="#g6c" x="40" y="5"/><use href="#g6f" x="45" y="5"/><use href="#g74" x="50" y="5"/><use href="#g61" x="55" y="5"/></g>
<rect class="ce" x="70" y="9" width="11" height="2" fill="#ff00ff"/>
<g fill="#000000"><use href="#g50" x="85" y="5"/><use href="#g159" x="90" y="5"/><use href="#ged" x="95" y="5"/><use href="#g7a" x="100" y="5"/><use href="#g65" x="105" y="5"/><use href="#g6d" x="110" y="5"/><use href="#g6e" x="115" y="5"/><use href="#ged" x="120" y="5"/><use href="#g74" x="130" y="5"/><use href="#g65" x="135" y="5"/><use href="#g70" x="140" y="5"/><use href="#g6c" x="145" y="5"/><use href="#g6f" x="150" y="5"/><use href="#g74" x="155" y="5"/><use href="#g61" x="160" y="5"/></g>
<rect class="ce" x="175" y="9" width="11" height="2" fill="#9400d3"/>
<g fill="#000000"><use href="#g56" x="190" y="5"/><use href="#g6c" x="195" y="5"/><use href="#g68" x="200" y="5"/><use href="#g6b" x="205" y="5"/><use href="#g6f" x="210" y="5"/><use href="#g73" x="215" y="5"/><use href="#g74" x="220" y="5"/></g>
<rect class="ce" x="235" y="9" width="11" height="2" fill="#228b22"/>
<g fill="#000000"><use href="#g54" x="250" y="5"/><use href="#g6c" x="255" y="5"/><use href="#g61" x="260" y="5"/><use href="#g6b" x="265" y="5"/></g>
<rect class="ce" x="280" y="9" width="11" height="2" fill="#00bfff"/>
<g fill="#000000"><use href="#g53" x="295" y="5"/><use href="#g72" x="300" y="5"/><use href="#ge1" x="305" y="5"/><use href="#g17e" x="310" y="5"/><use href="#g6b" x="315" y="5"/><use href="#g79" x="320" y="5"/></g>
<rect class="ce" x="335" y="9" width="11" height="2" fill="#000000"/>
<g fill="#000000"><use href="#g52" x="350" y="5"/><use href="#g79" x="355" y="5"/><use href="#g63" x="360" y="5"/><use href="#g68" x="365" y="5"/><use href="#g6c" x="370" y="5"/><use href="#g6f" x="375" y="5"/><use href="#g73" x="380" y="5"/><use href="#g74" x="385" y="5"/><use href="#g76" x="395" y="5"/><use href="#g11b" x="400" y="5"/><use href="#g74" x="405" y="5"/><use href="#g72" x="410" y="5"/><use href="#g75" x="415" y="5"/></g>
<rect class="ce" x="430" y="9" width="11" height="2" fill="#0000cd"/>
<g fill="#000000"><use href="#g4e" x="445" y="5"/><use href="#ge1" x="450" y="5"/><use href="#g72" x="455" y="5"/><use href="#g61" x="460" y="5"/><use href="#g7a" x="465" y="5"/><use href="#g76" x="475" y="5"/><use href="#g11b" x="480" y="5"/><use href="#g74" x="485" y="5"/><use href="#g72" x="490" y="5"/><use href="#g75" x="495" y="5"/></g>
<rect class="ce" x="510" y="9" width="11" height="2" fill="#696969"/>
<g fill="#000000"><use href="#g53" x="525" y="5"/><use href="#g6d" x="530" y="5"/><use href="#g11b" x="535" y="5"/><use href="#g72" x="540" y="5"/><use href="#g76" x="550" y="5"/><use href="#g11b" x="555" y="5"/><use href="#g74" x="560" y="5"/><use href="#g72" x="565" y="5"/><use href="#g75" x="570" y="5"/></g>
<rect class="ce" x="585" y="9" width="11" height="2" fill="#ffff00"/>
<g fill="#ffff00"><use href="#g55" x="600" y="5"/><use href="#g56" x="605" y="5"/><use href="#g69" x="615" y="5"/><use href="#g6e" x="620" y="5"/><use href="#g64" x="625" y="5"/><use href="#g65" x="630" y="5"/><use href="#g78" x="635" y="5"/></g>
<rect class="ce" x="650" y="9" width="11" height="2" fill="#ff7f00"/>
<g fill="#ff7f00"><use href="#g53" x="665" y="5"/><use href="#g6f" x="670" y="5"/><use href="#g6c" x="675" y="5"/><use href="#g61" x="680" y="5"/><use href="#g72" x="685" y="5"/></g>
<g fill="#000000"><use href="#g6d" x="80" y="20"/><use href="#g61" x="85" y="20"/><use href="#g78" x="90" y="20"/></g>
<g fill="#ff0000"><use href="#g32" x="100" y="20"/><use href="#g36" x="105" y="20"/><use href="#g2e" x="110" y="20"/><use href="#g33" x="115" y="20"/><use href="#gb0" x="120" y="20"/><use href="#g43" x="125" y="20"/></g>
<g fill="#ff0000"><use href="#g39" x="140" y="20"/><use href="#g32" x="145" y="20"/><use href="#g25" x="150" y="20"/></g>
<g fill="#ff0000"><use href="#g31" x="165" y="20"/><use href="#g30" x="170" y="20"/><use href="#g32" x="175" y="20"/><use href="#g36" x="180" y="20"/><use href="#g2e" x="185" y="20"/><use href="#g31" x="190" y="20"/><use href="#g68" x="195" y="20"/><use href="#g50" x="200" y="20"/><use href="#g61" x="205" y="20"/></g>
<g fill="#00bfff"><use href="#g30" x="225" y="20"/><use href="#g2e" x="230" y="20"/><use href="#g30" x="235" y="20"/><use href="#g6d" x="240" y="20"/><use href="#g6d" x="245" y="20"/></g>
<g fill="#000000"><use href="#g6d" x="80" y="30"/><use href="#g69" x="85" y="30"/><use href="#g6e" x="90" y="30"/></g>
<g fill="#0000cd"><use href="#g31" x="100" y="30"/><use href="#g33" x="105" y="30"/><use href="#g2e" x="110" y="30"/><use href="#g31" x="115" y="30"/><use href="#gb0" x="120" y="30"/><use href="#g43" x="125" y="30"/></g>
<g fill="#0000cd"><use href="#g34" x="140" y="30"/><use href="#g32" x="145" y="30"/><use href="#g25" x="150" y="30"/></g>
<g fill="#0000cd"><use href="#g31" x="165" y="30"/><use href="#g30" x="170" y="30"/><use href="#g32" x="175" y="30"/><use href="#g31" x="180" y="30"/><use href="#g2e" x="185" y="30"/><use href="#g38" x="190" y="30"/><use href="#g68" x="195" y="30"/><use href="#g50" x="200" y="30"/><use href="#g61" x="205" y="30"/></g>
<g fill="#000000"><use href="#g61" x="80" y="40"/><use href="#g76" x="85" y="40"/><use href="#g67" x="90" y="40"/><use href="#g32" x="100" y="40"/><use href="#g30" x="105" y="40"/><use href="#g2e" x="110" y="40"/><use href="#g34" x="115" y="40"/><use href="#gb0" x="120" y="40"/><use href="#g43" x="125" y="40"/></g>
<g fill="#000000"><use href="#g57" x="495" y="20"/><use href="#g53" x="500" y="20"/><use href="#g3a" x="505" y="20"/><use href="#g32" x="510" y="20"/><use href="#g2e" x="515" y="20"/><use href="#g37" x="520" y="20"/><use href="#g6d" x="525" y="20"/><use href="#g2f" x="530" y="20"/><use href="#g73" x="535" y="20"/></g>
<g fill="#000000"><use href="#g57" x="565" y="20"/><use href="#g47" x="570" y="20"/><use href="#g3a" x="575" y="20"/><use href="#g37" x="580" y="20"/><use href="#g2e" x="585" y="20"/><use href="#g36" x="590" y="20"/><use href="#g6d" x="595" y="20"/><use href="#g2f" x="600" y="20"/><use href="#g73" x="605" y="20"/></g>
<g fill="#000000"><use href="#g56" x="495" y="30"/><use href="#gfd" x="500" y="30"/><use href="#g63" x="505" y="30"/><use href="#g68" x="510" y="30"/><use href="#g6f" x="515" y="30"/><use href="#g64" x="520" y="30"/><use href="#g3a" x="525" y="30"/><use href="#g30" x="530" y="30"/><use href="#g35" x="535" y="30"/><use href="#g3a" x="540" y="30"/><use href="#g33" x="545" y="30"/><use href="#g35" x="550" y="30"/></g>
<g fill="#000000"><use href="#g5a" x="565" y="30"/><use href="#ge1" x="570" y="30"/><use href="#g70" x="575" y="30"/><use href="#g61" x="580" y="30"/><use href="#g64" x="585" y="30"/><use href="#g3a" x="590" y="30"/><use href="#g32" x="595" y="30"/><use href="#g30" x="600" y="30"/><use href="#g3a" x="605" y="30"/><use href="#g32" x="610" y="30"/><use href="#g33" x="615" y="30"/></g>
<g fill="#000"><use href="#b37" x="418" y="43"/><use href="#b2e" x="425" y="43"/><use href="#b30" x="432" y="43"/><use href="#b38" x="439" y="43"/><use href="#b2e" x="446" y="43"/><use href="#b32" x="453" y="43"/><use href="#b30" x="460" y="43"/><use href="#b31" x="467" y="43"/><use href="#b36" x="474" y="43"/></g>
<g class="ce" fill="#000"><rect x="0" y="0" width="900" height="1"/><rect x="0" y="399" width="900" height="1"/><rect x="0" y="0" width="1" height="400"/><rect x="899" y="0" width="1" height="400"/></g>
</svg></body></html>
